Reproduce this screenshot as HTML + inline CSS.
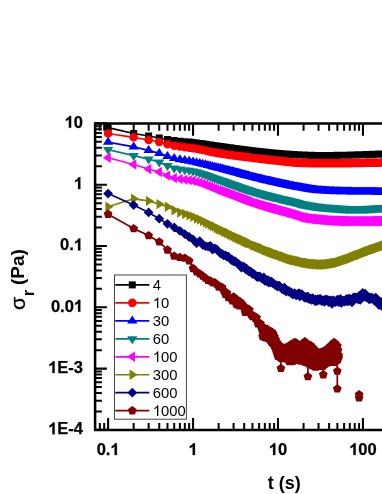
<!DOCTYPE html>
<html><head><meta charset="utf-8"><title>chart</title>
<style>html,body{margin:0;padding:0;background:#fff}svg{display:block;will-change:transform}text{font-family:"Liberation Sans",sans-serif}</style></head>
<body>
<svg width="382" height="494" viewBox="0 0 382 494">
<rect width="382" height="494" fill="#fff"/>
<path d="M95.1 122.15V431.15M93.85 123.4H387M93.85 429.9H387" stroke="#000" stroke-width="2.5" fill="none"/>
<path d="M95.1 429.9h11.8M95.1 368.6h11.8M95.1 307.3h11.8M95.1 246h11.8M95.1 184.7h11.8M95.1 123.4h11.8M108.1 429.9v-11.8M108.1 123.4v12.3M193.05 429.9v-11.8M193.05 123.4v12.3M278 429.9v-11.8M278 123.4v12.3M362.95 429.9v-11.8M362.95 123.4v12.3" stroke="#000" stroke-width="2.1" fill="none"/>
<path d="M95.1 411.45h6.8M95.1 400.65h6.8M95.1 392.99h6.8M95.1 387.05h6.8M95.1 382.2h6.8M95.1 378.1h6.8M95.1 374.54h6.8M95.1 371.4h6.8M95.1 350.15h6.8M95.1 339.35h6.8M95.1 331.69h6.8M95.1 325.75h6.8M95.1 320.9h6.8M95.1 316.8h6.8M95.1 313.24h6.8M95.1 310.1h6.8M95.1 288.85h6.8M95.1 278.05h6.8M95.1 270.39h6.8M95.1 264.45h6.8M95.1 259.6h6.8M95.1 255.5h6.8M95.1 251.94h6.8M95.1 248.8h6.8M95.1 227.55h6.8M95.1 216.75h6.8M95.1 209.09h6.8M95.1 203.15h6.8M95.1 198.3h6.8M95.1 194.2h6.8M95.1 190.64h6.8M95.1 187.5h6.8M95.1 166.25h6.8M95.1 155.45h6.8M95.1 147.79h6.8M95.1 141.85h6.8M95.1 137h6.8M95.1 132.9h6.8M95.1 129.34h6.8M95.1 126.2h6.8M133.67 429.9v-6.8M133.67 123.4v7.3M148.63 429.9v-6.8M148.63 123.4v7.3M159.24 429.9v-6.8M159.24 123.4v7.3M167.48 429.9v-6.8M167.48 123.4v7.3M174.2 429.9v-6.8M174.2 123.4v7.3M179.89 429.9v-6.8M179.89 123.4v7.3M184.82 429.9v-6.8M184.82 123.4v7.3M189.16 429.9v-6.8M189.16 123.4v7.3M218.62 429.9v-6.8M218.62 123.4v7.3M233.58 429.9v-6.8M233.58 123.4v7.3M244.19 429.9v-6.8M244.19 123.4v7.3M252.43 429.9v-6.8M252.43 123.4v7.3M259.15 429.9v-6.8M259.15 123.4v7.3M264.84 429.9v-6.8M264.84 123.4v7.3M269.77 429.9v-6.8M269.77 123.4v7.3M274.11 429.9v-6.8M274.11 123.4v7.3M303.57 429.9v-6.8M303.57 123.4v7.3M318.53 429.9v-6.8M318.53 123.4v7.3M329.14 429.9v-6.8M329.14 123.4v7.3M337.38 429.9v-6.8M337.38 123.4v7.3M344.1 429.9v-6.8M344.1 123.4v7.3M349.79 429.9v-6.8M349.79 123.4v7.3M354.72 429.9v-6.8M354.72 123.4v7.3M359.06 429.9v-6.8M359.06 123.4v7.3M99.87 429.9v-6.8M99.87 123.4v7.3M104.21 429.9v-6.8M104.21 123.4v7.3" stroke="#000" stroke-width="2" fill="none"/>
<g>
<path d="M108.1 127.63L133.67 133.49L148.63 135.99L159.24 137.99L167.48 139.48L174.2 140.53L179.89 141.17L184.82 141.65L189.16 142.07L193.05 142.51L196.57 142.96L199.78 143.41L202.73 143.85L205.46 144.28L208.01 144.68L210.39 145.05L212.63 145.4L214.74 145.73L216.73 146.03L218.62 146.3L220.42 146.56L222.14 146.8L223.78 147.03L225.35 147.25L226.86 147.46L228.3 147.66L229.69 147.85L231.04 148.04L232.33 148.22L233.58 148.39L234.79 148.55L235.96 148.71L237.1 148.87L238.2 149.01L239.27 149.16L240.31 149.29L241.32 149.43L242.3 149.56L243.26 149.68L244.19 149.8L245.11 149.92L246 150.03L246.86 150.14L247.71 150.24L248.54 150.35L249.35 150.45L250.92 150.64L252.43 150.82L253.87 150.99L255.27 151.15L256.61 151.3L257.9 151.45L259.15 151.6L260.36 151.74L261.53 151.87L262.67 152L263.77 152.12L264.84 152.24L265.88 152.35L266.89 152.46L267.88 152.56L268.83 152.66L269.77 152.76L270.68 152.85L271.57 152.93L272.44 153.02L273.28 153.1L274.11 153.17L274.92 153.24L276.11 153.35L277.25 153.44L278.37 153.53L279.45 153.61L280.5 153.69L281.52 153.77L282.51 153.85L283.48 153.92L284.42 153.99L285.34 154.05L286.23 154.12L287.11 154.18L287.96 154.24L288.8 154.29L289.61 154.35L290.68 154.41L291.71 154.48L292.71 154.54L293.69 154.6L294.64 154.65L295.57 154.7L296.48 154.75L297.36 154.8L298.22 154.84L299.07 154.88L299.89 154.91L300.7 154.95L301.68 154.99L302.64 155.02L303.57 155.06L304.48 155.1L305.37 155.13L306.24 155.16L307.09 155.2L307.92 155.23L308.73 155.26L309.68 155.29L310.61 155.32L311.51 155.35L312.39 155.38L313.25 155.4L314.09 155.42L314.92 155.44L315.72 155.46L316.64 155.47L317.53 155.49L318.41 155.49L319.26 155.5L320.1 155.5L320.91 155.5L321.82 155.5L322.71 155.5L323.58 155.49L324.43 155.49L325.26 155.48L326.07 155.48L326.96 155.47L327.83 155.47L328.68 155.46L329.51 155.45L330.32 155.44L331.21 155.44L332.07 155.43L332.91 155.42L333.74 155.41L334.54 155.4L335.41 155.39L336.25 155.38L337.08 155.37L337.89 155.36L338.75 155.34L339.6 155.33L340.42 155.32L341.23 155.31L342.08 155.3L342.92 155.29L343.73 155.27L344.59 155.26L345.43 155.24L346.25 155.22L347.06 155.2L347.9 155.18L348.72 155.16L349.53 155.14L350.37 155.11L351.19 155.09L351.99 155.06L352.83 155.04L353.64 155.01L354.49 154.98L355.31 154.96L356.12 154.93L356.95 154.9L357.77 154.87L358.61 154.85L359.43 154.82L360.23 154.79L361.06 154.76L361.86 154.74L362.69 154.71L363.5 154.68L364.33 154.66L365.13 154.63L365.96 154.6L366.77 154.57L367.59 154.54L368.39 154.51L369.21 154.48L370.01 154.45L370.83 154.41L371.65 154.38L372.46 154.35L373.28 154.32L374.1 154.29L374.91 154.25L375.73 154.22L376.53 154.19L377.34 154.16L378.15 154.13L378.98 154.1L379.78 154.07L380.59 154.05L381.4 154.02L382.22 153.99L383.02 153.97L383.83 153.94L384.64 153.92L385.45 153.89L386.26 153.87L387.07 153.84L387.89 153.82L388.71 153.8L389.52 153.77L390.34 153.75L391.16 153.73L391.97 153.7" fill="none" stroke="#000000" stroke-width="1.7" stroke-linejoin="round"/>
<path d="M104.6 124.13h7v7h-7zM130.17 129.99h7v7h-7zM145.13 132.49h7v7h-7zM155.74 134.49h7v7h-7zM163.98 135.98h7v7h-7zM170.7 137.03h7v7h-7zM176.39 137.67h7v7h-7zM181.32 138.15h7v7h-7zM185.66 138.57h7v7h-7zM189.55 139.01h7v7h-7zM193.07 139.46h7v7h-7zM196.28 139.91h7v7h-7zM199.23 140.35h7v7h-7zM201.96 140.78h7v7h-7zM204.51 141.18h7v7h-7zM206.89 141.55h7v7h-7zM209.13 141.9h7v7h-7zM211.24 142.23h7v7h-7zM213.23 142.53h7v7h-7zM215.12 142.8h7v7h-7zM216.92 143.06h7v7h-7zM218.64 143.3h7v7h-7zM220.28 143.53h7v7h-7zM221.85 143.75h7v7h-7zM223.36 143.96h7v7h-7zM224.8 144.16h7v7h-7zM226.19 144.35h7v7h-7zM227.54 144.54h7v7h-7zM228.83 144.72h7v7h-7zM230.08 144.89h7v7h-7zM231.29 145.05h7v7h-7zM232.46 145.21h7v7h-7zM233.6 145.37h7v7h-7zM234.7 145.51h7v7h-7zM235.77 145.66h7v7h-7zM236.81 145.79h7v7h-7zM237.82 145.93h7v7h-7zM238.8 146.06h7v7h-7zM239.76 146.18h7v7h-7zM240.69 146.3h7v7h-7zM241.61 146.42h7v7h-7zM242.5 146.53h7v7h-7zM243.36 146.64h7v7h-7zM244.21 146.74h7v7h-7zM245.04 146.85h7v7h-7zM245.85 146.95h7v7h-7zM247.42 147.14h7v7h-7zM248.93 147.32h7v7h-7zM250.37 147.49h7v7h-7zM251.77 147.65h7v7h-7zM253.11 147.8h7v7h-7zM254.4 147.95h7v7h-7zM255.65 148.1h7v7h-7zM256.86 148.24h7v7h-7zM258.03 148.37h7v7h-7zM259.17 148.5h7v7h-7zM260.27 148.62h7v7h-7zM261.34 148.74h7v7h-7zM262.38 148.85h7v7h-7zM263.39 148.96h7v7h-7zM264.38 149.06h7v7h-7zM265.33 149.16h7v7h-7zM266.27 149.26h7v7h-7zM267.18 149.35h7v7h-7zM268.07 149.43h7v7h-7zM268.94 149.52h7v7h-7zM269.78 149.6h7v7h-7zM270.61 149.67h7v7h-7zM271.42 149.74h7v7h-7zM272.61 149.85h7v7h-7zM273.75 149.94h7v7h-7zM274.87 150.03h7v7h-7zM275.95 150.11h7v7h-7zM277 150.19h7v7h-7zM278.02 150.27h7v7h-7zM279.01 150.35h7v7h-7zM279.98 150.42h7v7h-7zM280.92 150.49h7v7h-7zM281.84 150.55h7v7h-7zM282.73 150.62h7v7h-7zM283.61 150.68h7v7h-7zM284.46 150.74h7v7h-7zM285.3 150.79h7v7h-7zM286.11 150.85h7v7h-7zM287.18 150.91h7v7h-7zM288.21 150.98h7v7h-7zM289.21 151.04h7v7h-7zM290.19 151.1h7v7h-7zM291.14 151.15h7v7h-7zM292.07 151.2h7v7h-7zM292.98 151.25h7v7h-7zM293.86 151.3h7v7h-7zM294.72 151.34h7v7h-7zM295.57 151.38h7v7h-7zM296.39 151.41h7v7h-7zM297.2 151.45h7v7h-7zM298.18 151.49h7v7h-7zM299.14 151.52h7v7h-7zM300.07 151.56h7v7h-7zM300.98 151.6h7v7h-7zM301.87 151.63h7v7h-7zM302.74 151.66h7v7h-7zM303.59 151.7h7v7h-7zM304.42 151.73h7v7h-7zM305.23 151.76h7v7h-7zM306.18 151.79h7v7h-7zM307.11 151.82h7v7h-7zM308.01 151.85h7v7h-7zM308.89 151.88h7v7h-7zM309.75 151.9h7v7h-7zM310.59 151.92h7v7h-7zM311.42 151.94h7v7h-7zM312.22 151.96h7v7h-7zM313.14 151.97h7v7h-7zM314.03 151.99h7v7h-7zM314.91 151.99h7v7h-7zM315.76 152h7v7h-7zM316.6 152h7v7h-7zM317.41 152h7v7h-7zM318.32 152h7v7h-7zM319.21 152h7v7h-7zM320.08 151.99h7v7h-7zM320.93 151.99h7v7h-7zM321.76 151.98h7v7h-7zM322.57 151.98h7v7h-7zM323.46 151.97h7v7h-7zM324.33 151.97h7v7h-7zM325.18 151.96h7v7h-7zM326.01 151.95h7v7h-7zM326.82 151.94h7v7h-7zM327.71 151.94h7v7h-7zM328.57 151.93h7v7h-7zM329.41 151.92h7v7h-7zM330.24 151.91h7v7h-7zM331.04 151.9h7v7h-7zM331.91 151.89h7v7h-7zM332.75 151.88h7v7h-7zM333.58 151.87h7v7h-7zM334.39 151.86h7v7h-7zM335.25 151.84h7v7h-7zM336.1 151.83h7v7h-7zM336.92 151.82h7v7h-7zM337.73 151.81h7v7h-7zM338.58 151.8h7v7h-7zM339.42 151.79h7v7h-7zM340.23 151.77h7v7h-7zM341.09 151.76h7v7h-7zM341.93 151.74h7v7h-7zM342.75 151.72h7v7h-7zM343.56 151.7h7v7h-7zM344.4 151.68h7v7h-7zM345.22 151.66h7v7h-7zM346.03 151.64h7v7h-7zM346.87 151.61h7v7h-7zM347.69 151.59h7v7h-7zM348.49 151.56h7v7h-7zM349.33 151.54h7v7h-7zM350.14 151.51h7v7h-7zM350.99 151.48h7v7h-7zM351.81 151.46h7v7h-7zM352.62 151.43h7v7h-7zM353.45 151.4h7v7h-7zM354.27 151.37h7v7h-7zM355.11 151.35h7v7h-7zM355.93 151.32h7v7h-7zM356.73 151.29h7v7h-7zM357.56 151.26h7v7h-7zM358.36 151.24h7v7h-7zM359.19 151.21h7v7h-7zM360 151.18h7v7h-7zM360.83 151.16h7v7h-7zM361.63 151.13h7v7h-7zM362.46 151.1h7v7h-7zM363.27 151.07h7v7h-7zM364.09 151.04h7v7h-7zM364.89 151.01h7v7h-7zM365.71 150.98h7v7h-7zM366.51 150.95h7v7h-7zM367.33 150.91h7v7h-7zM368.15 150.88h7v7h-7zM368.96 150.85h7v7h-7zM369.78 150.82h7v7h-7zM370.6 150.79h7v7h-7zM371.41 150.75h7v7h-7zM372.23 150.72h7v7h-7zM373.03 150.69h7v7h-7zM373.84 150.66h7v7h-7zM374.65 150.63h7v7h-7zM375.48 150.6h7v7h-7zM376.28 150.57h7v7h-7zM377.09 150.55h7v7h-7zM377.9 150.52h7v7h-7zM378.72 150.49h7v7h-7zM379.52 150.47h7v7h-7zM380.33 150.44h7v7h-7zM381.14 150.42h7v7h-7zM381.95 150.39h7v7h-7zM382.76 150.37h7v7h-7zM383.57 150.34h7v7h-7zM384.39 150.32h7v7h-7zM385.21 150.3h7v7h-7zM386.02 150.27h7v7h-7zM386.84 150.25h7v7h-7zM387.66 150.23h7v7h-7zM388.47 150.2h7v7h-7z" fill="#000000"/>
<path d="M108.1 133.51L133.67 137.3L148.63 139.99L159.24 141.99L167.48 144.15L174.2 145.74L179.89 146.57L184.82 147.15L189.16 147.66L193.05 148.21L196.57 148.81L199.78 149.42L202.73 150.03L205.46 150.61L208.01 151.16L210.39 151.67L212.63 152.14L214.74 152.56L216.73 152.94L218.62 153.27L220.42 153.57L222.14 153.83L223.78 154.08L225.35 154.32L226.86 154.53L228.3 154.74L229.69 154.93L231.04 155.12L232.33 155.29L233.58 155.46L234.79 155.62L235.96 155.77L237.1 155.91L238.2 156.05L239.27 156.19L240.31 156.32L241.32 156.45L242.3 156.57L243.26 156.69L244.19 156.8L245.11 156.91L246 157.02L246.86 157.13L247.71 157.23L248.54 157.33L249.35 157.43L250.92 157.62L252.43 157.81L253.87 157.98L255.27 158.16L256.61 158.32L257.9 158.48L259.15 158.64L260.36 158.78L261.53 158.93L262.67 159.06L263.77 159.2L264.84 159.32L265.88 159.45L266.89 159.57L267.88 159.68L268.83 159.79L269.77 159.9L270.68 160.01L271.57 160.11L272.44 160.2L273.28 160.3L274.11 160.39L274.92 160.48L276.11 160.6L277.25 160.72L278.37 160.84L279.45 160.95L280.5 161.07L281.52 161.18L282.51 161.3L283.48 161.41L284.42 161.52L285.34 161.62L286.23 161.73L287.11 161.83L287.96 161.93L288.8 162.02L289.61 162.11L290.68 162.22L291.71 162.33L292.71 162.43L293.69 162.52L294.64 162.6L295.57 162.67L296.48 162.74L297.36 162.8L298.22 162.85L299.07 162.9L299.89 162.94L300.7 162.97L301.68 162.99L302.64 163.01L303.57 163.03L304.48 163.05L305.37 163.06L306.24 163.08L307.09 163.09L307.92 163.1L308.73 163.11L309.68 163.13L310.61 163.14L311.51 163.15L312.39 163.16L313.25 163.17L314.09 163.17L314.92 163.18L315.72 163.19L316.64 163.19L317.53 163.2L318.41 163.2L319.26 163.2L320.1 163.2L320.91 163.2L321.82 163.2L322.71 163.2L323.58 163.2L324.43 163.2L325.26 163.2L326.07 163.2L326.96 163.2L327.83 163.2L328.68 163.2L329.51 163.2L330.32 163.2L331.21 163.2L332.07 163.2L332.91 163.2L333.74 163.2L334.54 163.2L335.41 163.2L336.25 163.2L337.08 163.2L337.89 163.2L338.75 163.2L339.6 163.2L340.42 163.2L341.23 163.2L342.08 163.2L342.92 163.2L343.73 163.2L344.59 163.19L345.43 163.19L346.25 163.18L347.06 163.17L347.9 163.16L348.72 163.15L349.53 163.14L350.37 163.13L351.19 163.11L351.99 163.1L352.83 163.08L353.64 163.07L354.49 163.05L355.31 163.04L356.12 163.02L356.95 163.01L357.77 162.99L358.61 162.98L359.43 162.96L360.23 162.95L361.06 162.93L361.86 162.92L362.69 162.9L363.5 162.89L364.33 162.88L365.13 162.87L365.96 162.85L366.77 162.84L367.59 162.83L368.39 162.81L369.21 162.8L370.01 162.79L370.83 162.77L371.65 162.76L372.46 162.75L373.28 162.73L374.1 162.72L374.91 162.71L375.73 162.69L376.53 162.68L377.34 162.67L378.15 162.65L378.98 162.64L379.78 162.63L380.59 162.62L381.4 162.61L382.22 162.6L383.02 162.59L383.83 162.58L384.64 162.57L385.45 162.56L386.26 162.55L387.07 162.54L387.89 162.53L388.71 162.52L389.52 162.51L390.34 162.5L391.16 162.49L391.97 162.48" fill="none" stroke="#ff0000" stroke-width="1.7" stroke-linejoin="round"/>
<path d="M103.85 133.51a4.25 4.25 0 1 0 8.5 0a4.25 4.25 0 1 0 -8.5 0zM129.42 137.3a4.25 4.25 0 1 0 8.5 0a4.25 4.25 0 1 0 -8.5 0zM144.38 139.99a4.25 4.25 0 1 0 8.5 0a4.25 4.25 0 1 0 -8.5 0zM154.99 141.99a4.25 4.25 0 1 0 8.5 0a4.25 4.25 0 1 0 -8.5 0zM163.23 144.15a4.25 4.25 0 1 0 8.5 0a4.25 4.25 0 1 0 -8.5 0zM169.95 145.74a4.25 4.25 0 1 0 8.5 0a4.25 4.25 0 1 0 -8.5 0zM175.64 146.57a4.25 4.25 0 1 0 8.5 0a4.25 4.25 0 1 0 -8.5 0zM180.57 147.15a4.25 4.25 0 1 0 8.5 0a4.25 4.25 0 1 0 -8.5 0zM184.91 147.66a4.25 4.25 0 1 0 8.5 0a4.25 4.25 0 1 0 -8.5 0zM188.8 148.21a4.25 4.25 0 1 0 8.5 0a4.25 4.25 0 1 0 -8.5 0zM192.32 148.81a4.25 4.25 0 1 0 8.5 0a4.25 4.25 0 1 0 -8.5 0zM195.53 149.42a4.25 4.25 0 1 0 8.5 0a4.25 4.25 0 1 0 -8.5 0zM198.48 150.03a4.25 4.25 0 1 0 8.5 0a4.25 4.25 0 1 0 -8.5 0zM201.21 150.61a4.25 4.25 0 1 0 8.5 0a4.25 4.25 0 1 0 -8.5 0zM203.76 151.16a4.25 4.25 0 1 0 8.5 0a4.25 4.25 0 1 0 -8.5 0zM206.14 151.67a4.25 4.25 0 1 0 8.5 0a4.25 4.25 0 1 0 -8.5 0zM208.38 152.14a4.25 4.25 0 1 0 8.5 0a4.25 4.25 0 1 0 -8.5 0zM210.49 152.56a4.25 4.25 0 1 0 8.5 0a4.25 4.25 0 1 0 -8.5 0zM212.48 152.94a4.25 4.25 0 1 0 8.5 0a4.25 4.25 0 1 0 -8.5 0zM214.37 153.27a4.25 4.25 0 1 0 8.5 0a4.25 4.25 0 1 0 -8.5 0zM216.17 153.57a4.25 4.25 0 1 0 8.5 0a4.25 4.25 0 1 0 -8.5 0zM217.89 153.83a4.25 4.25 0 1 0 8.5 0a4.25 4.25 0 1 0 -8.5 0zM219.53 154.08a4.25 4.25 0 1 0 8.5 0a4.25 4.25 0 1 0 -8.5 0zM221.1 154.32a4.25 4.25 0 1 0 8.5 0a4.25 4.25 0 1 0 -8.5 0zM222.61 154.53a4.25 4.25 0 1 0 8.5 0a4.25 4.25 0 1 0 -8.5 0zM224.05 154.74a4.25 4.25 0 1 0 8.5 0a4.25 4.25 0 1 0 -8.5 0zM225.44 154.93a4.25 4.25 0 1 0 8.5 0a4.25 4.25 0 1 0 -8.5 0zM226.79 155.12a4.25 4.25 0 1 0 8.5 0a4.25 4.25 0 1 0 -8.5 0zM228.08 155.29a4.25 4.25 0 1 0 8.5 0a4.25 4.25 0 1 0 -8.5 0zM229.33 155.46a4.25 4.25 0 1 0 8.5 0a4.25 4.25 0 1 0 -8.5 0zM230.54 155.62a4.25 4.25 0 1 0 8.5 0a4.25 4.25 0 1 0 -8.5 0zM231.71 155.77a4.25 4.25 0 1 0 8.5 0a4.25 4.25 0 1 0 -8.5 0zM232.85 155.91a4.25 4.25 0 1 0 8.5 0a4.25 4.25 0 1 0 -8.5 0zM233.95 156.05a4.25 4.25 0 1 0 8.5 0a4.25 4.25 0 1 0 -8.5 0zM235.02 156.19a4.25 4.25 0 1 0 8.5 0a4.25 4.25 0 1 0 -8.5 0zM236.06 156.32a4.25 4.25 0 1 0 8.5 0a4.25 4.25 0 1 0 -8.5 0zM237.07 156.45a4.25 4.25 0 1 0 8.5 0a4.25 4.25 0 1 0 -8.5 0zM238.05 156.57a4.25 4.25 0 1 0 8.5 0a4.25 4.25 0 1 0 -8.5 0zM239.01 156.69a4.25 4.25 0 1 0 8.5 0a4.25 4.25 0 1 0 -8.5 0zM239.94 156.8a4.25 4.25 0 1 0 8.5 0a4.25 4.25 0 1 0 -8.5 0zM240.86 156.91a4.25 4.25 0 1 0 8.5 0a4.25 4.25 0 1 0 -8.5 0zM241.75 157.02a4.25 4.25 0 1 0 8.5 0a4.25 4.25 0 1 0 -8.5 0zM242.61 157.13a4.25 4.25 0 1 0 8.5 0a4.25 4.25 0 1 0 -8.5 0zM243.46 157.23a4.25 4.25 0 1 0 8.5 0a4.25 4.25 0 1 0 -8.5 0zM244.29 157.33a4.25 4.25 0 1 0 8.5 0a4.25 4.25 0 1 0 -8.5 0zM245.1 157.43a4.25 4.25 0 1 0 8.5 0a4.25 4.25 0 1 0 -8.5 0zM246.67 157.62a4.25 4.25 0 1 0 8.5 0a4.25 4.25 0 1 0 -8.5 0zM248.18 157.81a4.25 4.25 0 1 0 8.5 0a4.25 4.25 0 1 0 -8.5 0zM249.62 157.98a4.25 4.25 0 1 0 8.5 0a4.25 4.25 0 1 0 -8.5 0zM251.02 158.16a4.25 4.25 0 1 0 8.5 0a4.25 4.25 0 1 0 -8.5 0zM252.36 158.32a4.25 4.25 0 1 0 8.5 0a4.25 4.25 0 1 0 -8.5 0zM253.65 158.48a4.25 4.25 0 1 0 8.5 0a4.25 4.25 0 1 0 -8.5 0zM254.9 158.64a4.25 4.25 0 1 0 8.5 0a4.25 4.25 0 1 0 -8.5 0zM256.11 158.78a4.25 4.25 0 1 0 8.5 0a4.25 4.25 0 1 0 -8.5 0zM257.28 158.93a4.25 4.25 0 1 0 8.5 0a4.25 4.25 0 1 0 -8.5 0zM258.42 159.06a4.25 4.25 0 1 0 8.5 0a4.25 4.25 0 1 0 -8.5 0zM259.52 159.2a4.25 4.25 0 1 0 8.5 0a4.25 4.25 0 1 0 -8.5 0zM260.59 159.32a4.25 4.25 0 1 0 8.5 0a4.25 4.25 0 1 0 -8.5 0zM261.63 159.45a4.25 4.25 0 1 0 8.5 0a4.25 4.25 0 1 0 -8.5 0zM262.64 159.57a4.25 4.25 0 1 0 8.5 0a4.25 4.25 0 1 0 -8.5 0zM263.63 159.68a4.25 4.25 0 1 0 8.5 0a4.25 4.25 0 1 0 -8.5 0zM264.58 159.79a4.25 4.25 0 1 0 8.5 0a4.25 4.25 0 1 0 -8.5 0zM265.52 159.9a4.25 4.25 0 1 0 8.5 0a4.25 4.25 0 1 0 -8.5 0zM266.43 160.01a4.25 4.25 0 1 0 8.5 0a4.25 4.25 0 1 0 -8.5 0zM267.32 160.11a4.25 4.25 0 1 0 8.5 0a4.25 4.25 0 1 0 -8.5 0zM268.19 160.2a4.25 4.25 0 1 0 8.5 0a4.25 4.25 0 1 0 -8.5 0zM269.03 160.3a4.25 4.25 0 1 0 8.5 0a4.25 4.25 0 1 0 -8.5 0zM269.86 160.39a4.25 4.25 0 1 0 8.5 0a4.25 4.25 0 1 0 -8.5 0zM270.67 160.48a4.25 4.25 0 1 0 8.5 0a4.25 4.25 0 1 0 -8.5 0zM271.86 160.6a4.25 4.25 0 1 0 8.5 0a4.25 4.25 0 1 0 -8.5 0zM273 160.72a4.25 4.25 0 1 0 8.5 0a4.25 4.25 0 1 0 -8.5 0zM274.12 160.84a4.25 4.25 0 1 0 8.5 0a4.25 4.25 0 1 0 -8.5 0zM275.2 160.95a4.25 4.25 0 1 0 8.5 0a4.25 4.25 0 1 0 -8.5 0zM276.25 161.07a4.25 4.25 0 1 0 8.5 0a4.25 4.25 0 1 0 -8.5 0zM277.27 161.18a4.25 4.25 0 1 0 8.5 0a4.25 4.25 0 1 0 -8.5 0zM278.26 161.3a4.25 4.25 0 1 0 8.5 0a4.25 4.25 0 1 0 -8.5 0zM279.23 161.41a4.25 4.25 0 1 0 8.5 0a4.25 4.25 0 1 0 -8.5 0zM280.17 161.52a4.25 4.25 0 1 0 8.5 0a4.25 4.25 0 1 0 -8.5 0zM281.09 161.62a4.25 4.25 0 1 0 8.5 0a4.25 4.25 0 1 0 -8.5 0zM281.98 161.73a4.25 4.25 0 1 0 8.5 0a4.25 4.25 0 1 0 -8.5 0zM282.86 161.83a4.25 4.25 0 1 0 8.5 0a4.25 4.25 0 1 0 -8.5 0zM283.71 161.93a4.25 4.25 0 1 0 8.5 0a4.25 4.25 0 1 0 -8.5 0zM284.55 162.02a4.25 4.25 0 1 0 8.5 0a4.25 4.25 0 1 0 -8.5 0zM285.36 162.11a4.25 4.25 0 1 0 8.5 0a4.25 4.25 0 1 0 -8.5 0zM286.43 162.22a4.25 4.25 0 1 0 8.5 0a4.25 4.25 0 1 0 -8.5 0zM287.46 162.33a4.25 4.25 0 1 0 8.5 0a4.25 4.25 0 1 0 -8.5 0zM288.46 162.43a4.25 4.25 0 1 0 8.5 0a4.25 4.25 0 1 0 -8.5 0zM289.44 162.52a4.25 4.25 0 1 0 8.5 0a4.25 4.25 0 1 0 -8.5 0zM290.39 162.6a4.25 4.25 0 1 0 8.5 0a4.25 4.25 0 1 0 -8.5 0zM291.32 162.67a4.25 4.25 0 1 0 8.5 0a4.25 4.25 0 1 0 -8.5 0zM292.23 162.74a4.25 4.25 0 1 0 8.5 0a4.25 4.25 0 1 0 -8.5 0zM293.11 162.8a4.25 4.25 0 1 0 8.5 0a4.25 4.25 0 1 0 -8.5 0zM293.97 162.85a4.25 4.25 0 1 0 8.5 0a4.25 4.25 0 1 0 -8.5 0zM294.82 162.9a4.25 4.25 0 1 0 8.5 0a4.25 4.25 0 1 0 -8.5 0zM295.64 162.94a4.25 4.25 0 1 0 8.5 0a4.25 4.25 0 1 0 -8.5 0zM296.45 162.97a4.25 4.25 0 1 0 8.5 0a4.25 4.25 0 1 0 -8.5 0zM297.43 162.99a4.25 4.25 0 1 0 8.5 0a4.25 4.25 0 1 0 -8.5 0zM298.39 163.01a4.25 4.25 0 1 0 8.5 0a4.25 4.25 0 1 0 -8.5 0zM299.32 163.03a4.25 4.25 0 1 0 8.5 0a4.25 4.25 0 1 0 -8.5 0zM300.23 163.05a4.25 4.25 0 1 0 8.5 0a4.25 4.25 0 1 0 -8.5 0zM301.12 163.06a4.25 4.25 0 1 0 8.5 0a4.25 4.25 0 1 0 -8.5 0zM301.99 163.08a4.25 4.25 0 1 0 8.5 0a4.25 4.25 0 1 0 -8.5 0zM302.84 163.09a4.25 4.25 0 1 0 8.5 0a4.25 4.25 0 1 0 -8.5 0zM303.67 163.1a4.25 4.25 0 1 0 8.5 0a4.25 4.25 0 1 0 -8.5 0zM304.48 163.11a4.25 4.25 0 1 0 8.5 0a4.25 4.25 0 1 0 -8.5 0zM305.43 163.13a4.25 4.25 0 1 0 8.5 0a4.25 4.25 0 1 0 -8.5 0zM306.36 163.14a4.25 4.25 0 1 0 8.5 0a4.25 4.25 0 1 0 -8.5 0zM307.26 163.15a4.25 4.25 0 1 0 8.5 0a4.25 4.25 0 1 0 -8.5 0zM308.14 163.16a4.25 4.25 0 1 0 8.5 0a4.25 4.25 0 1 0 -8.5 0zM309 163.17a4.25 4.25 0 1 0 8.5 0a4.25 4.25 0 1 0 -8.5 0zM309.84 163.17a4.25 4.25 0 1 0 8.5 0a4.25 4.25 0 1 0 -8.5 0zM310.67 163.18a4.25 4.25 0 1 0 8.5 0a4.25 4.25 0 1 0 -8.5 0zM311.47 163.19a4.25 4.25 0 1 0 8.5 0a4.25 4.25 0 1 0 -8.5 0zM312.39 163.19a4.25 4.25 0 1 0 8.5 0a4.25 4.25 0 1 0 -8.5 0zM313.28 163.2a4.25 4.25 0 1 0 8.5 0a4.25 4.25 0 1 0 -8.5 0zM314.16 163.2a4.25 4.25 0 1 0 8.5 0a4.25 4.25 0 1 0 -8.5 0zM315.01 163.2a4.25 4.25 0 1 0 8.5 0a4.25 4.25 0 1 0 -8.5 0zM315.85 163.2a4.25 4.25 0 1 0 8.5 0a4.25 4.25 0 1 0 -8.5 0zM316.66 163.2a4.25 4.25 0 1 0 8.5 0a4.25 4.25 0 1 0 -8.5 0zM317.57 163.2a4.25 4.25 0 1 0 8.5 0a4.25 4.25 0 1 0 -8.5 0zM318.46 163.2a4.25 4.25 0 1 0 8.5 0a4.25 4.25 0 1 0 -8.5 0zM319.33 163.2a4.25 4.25 0 1 0 8.5 0a4.25 4.25 0 1 0 -8.5 0zM320.18 163.2a4.25 4.25 0 1 0 8.5 0a4.25 4.25 0 1 0 -8.5 0zM321.01 163.2a4.25 4.25 0 1 0 8.5 0a4.25 4.25 0 1 0 -8.5 0zM321.82 163.2a4.25 4.25 0 1 0 8.5 0a4.25 4.25 0 1 0 -8.5 0zM322.71 163.2a4.25 4.25 0 1 0 8.5 0a4.25 4.25 0 1 0 -8.5 0zM323.58 163.2a4.25 4.25 0 1 0 8.5 0a4.25 4.25 0 1 0 -8.5 0zM324.43 163.2a4.25 4.25 0 1 0 8.5 0a4.25 4.25 0 1 0 -8.5 0zM325.26 163.2a4.25 4.25 0 1 0 8.5 0a4.25 4.25 0 1 0 -8.5 0zM326.07 163.2a4.25 4.25 0 1 0 8.5 0a4.25 4.25 0 1 0 -8.5 0zM326.96 163.2a4.25 4.25 0 1 0 8.5 0a4.25 4.25 0 1 0 -8.5 0zM327.82 163.2a4.25 4.25 0 1 0 8.5 0a4.25 4.25 0 1 0 -8.5 0zM328.66 163.2a4.25 4.25 0 1 0 8.5 0a4.25 4.25 0 1 0 -8.5 0zM329.49 163.2a4.25 4.25 0 1 0 8.5 0a4.25 4.25 0 1 0 -8.5 0zM330.29 163.2a4.25 4.25 0 1 0 8.5 0a4.25 4.25 0 1 0 -8.5 0zM331.16 163.2a4.25 4.25 0 1 0 8.5 0a4.25 4.25 0 1 0 -8.5 0zM332 163.2a4.25 4.25 0 1 0 8.5 0a4.25 4.25 0 1 0 -8.5 0zM332.83 163.2a4.25 4.25 0 1 0 8.5 0a4.25 4.25 0 1 0 -8.5 0zM333.64 163.2a4.25 4.25 0 1 0 8.5 0a4.25 4.25 0 1 0 -8.5 0zM334.5 163.2a4.25 4.25 0 1 0 8.5 0a4.25 4.25 0 1 0 -8.5 0zM335.35 163.2a4.25 4.25 0 1 0 8.5 0a4.25 4.25 0 1 0 -8.5 0zM336.17 163.2a4.25 4.25 0 1 0 8.5 0a4.25 4.25 0 1 0 -8.5 0zM336.98 163.2a4.25 4.25 0 1 0 8.5 0a4.25 4.25 0 1 0 -8.5 0zM337.83 163.2a4.25 4.25 0 1 0 8.5 0a4.25 4.25 0 1 0 -8.5 0zM338.67 163.2a4.25 4.25 0 1 0 8.5 0a4.25 4.25 0 1 0 -8.5 0zM339.48 163.2a4.25 4.25 0 1 0 8.5 0a4.25 4.25 0 1 0 -8.5 0zM340.34 163.19a4.25 4.25 0 1 0 8.5 0a4.25 4.25 0 1 0 -8.5 0zM341.18 163.19a4.25 4.25 0 1 0 8.5 0a4.25 4.25 0 1 0 -8.5 0zM342 163.18a4.25 4.25 0 1 0 8.5 0a4.25 4.25 0 1 0 -8.5 0zM342.81 163.17a4.25 4.25 0 1 0 8.5 0a4.25 4.25 0 1 0 -8.5 0zM343.65 163.16a4.25 4.25 0 1 0 8.5 0a4.25 4.25 0 1 0 -8.5 0zM344.47 163.15a4.25 4.25 0 1 0 8.5 0a4.25 4.25 0 1 0 -8.5 0zM345.28 163.14a4.25 4.25 0 1 0 8.5 0a4.25 4.25 0 1 0 -8.5 0zM346.12 163.13a4.25 4.25 0 1 0 8.5 0a4.25 4.25 0 1 0 -8.5 0zM346.94 163.11a4.25 4.25 0 1 0 8.5 0a4.25 4.25 0 1 0 -8.5 0zM347.74 163.1a4.25 4.25 0 1 0 8.5 0a4.25 4.25 0 1 0 -8.5 0zM348.58 163.08a4.25 4.25 0 1 0 8.5 0a4.25 4.25 0 1 0 -8.5 0zM349.39 163.07a4.25 4.25 0 1 0 8.5 0a4.25 4.25 0 1 0 -8.5 0zM350.24 163.05a4.25 4.25 0 1 0 8.5 0a4.25 4.25 0 1 0 -8.5 0zM351.06 163.04a4.25 4.25 0 1 0 8.5 0a4.25 4.25 0 1 0 -8.5 0zM351.87 163.02a4.25 4.25 0 1 0 8.5 0a4.25 4.25 0 1 0 -8.5 0zM352.7 163.01a4.25 4.25 0 1 0 8.5 0a4.25 4.25 0 1 0 -8.5 0zM353.52 162.99a4.25 4.25 0 1 0 8.5 0a4.25 4.25 0 1 0 -8.5 0zM354.36 162.98a4.25 4.25 0 1 0 8.5 0a4.25 4.25 0 1 0 -8.5 0zM355.18 162.96a4.25 4.25 0 1 0 8.5 0a4.25 4.25 0 1 0 -8.5 0zM355.98 162.95a4.25 4.25 0 1 0 8.5 0a4.25 4.25 0 1 0 -8.5 0zM356.81 162.93a4.25 4.25 0 1 0 8.5 0a4.25 4.25 0 1 0 -8.5 0zM357.61 162.92a4.25 4.25 0 1 0 8.5 0a4.25 4.25 0 1 0 -8.5 0zM358.44 162.9a4.25 4.25 0 1 0 8.5 0a4.25 4.25 0 1 0 -8.5 0zM359.25 162.89a4.25 4.25 0 1 0 8.5 0a4.25 4.25 0 1 0 -8.5 0zM360.08 162.88a4.25 4.25 0 1 0 8.5 0a4.25 4.25 0 1 0 -8.5 0zM360.88 162.87a4.25 4.25 0 1 0 8.5 0a4.25 4.25 0 1 0 -8.5 0zM361.71 162.85a4.25 4.25 0 1 0 8.5 0a4.25 4.25 0 1 0 -8.5 0zM362.52 162.84a4.25 4.25 0 1 0 8.5 0a4.25 4.25 0 1 0 -8.5 0zM363.34 162.83a4.25 4.25 0 1 0 8.5 0a4.25 4.25 0 1 0 -8.5 0zM364.14 162.81a4.25 4.25 0 1 0 8.5 0a4.25 4.25 0 1 0 -8.5 0zM364.96 162.8a4.25 4.25 0 1 0 8.5 0a4.25 4.25 0 1 0 -8.5 0zM365.76 162.79a4.25 4.25 0 1 0 8.5 0a4.25 4.25 0 1 0 -8.5 0zM366.58 162.77a4.25 4.25 0 1 0 8.5 0a4.25 4.25 0 1 0 -8.5 0zM367.4 162.76a4.25 4.25 0 1 0 8.5 0a4.25 4.25 0 1 0 -8.5 0zM368.21 162.75a4.25 4.25 0 1 0 8.5 0a4.25 4.25 0 1 0 -8.5 0zM369.03 162.73a4.25 4.25 0 1 0 8.5 0a4.25 4.25 0 1 0 -8.5 0zM369.85 162.72a4.25 4.25 0 1 0 8.5 0a4.25 4.25 0 1 0 -8.5 0zM370.66 162.71a4.25 4.25 0 1 0 8.5 0a4.25 4.25 0 1 0 -8.5 0zM371.48 162.69a4.25 4.25 0 1 0 8.5 0a4.25 4.25 0 1 0 -8.5 0zM372.28 162.68a4.25 4.25 0 1 0 8.5 0a4.25 4.25 0 1 0 -8.5 0zM373.09 162.67a4.25 4.25 0 1 0 8.5 0a4.25 4.25 0 1 0 -8.5 0zM373.9 162.65a4.25 4.25 0 1 0 8.5 0a4.25 4.25 0 1 0 -8.5 0zM374.73 162.64a4.25 4.25 0 1 0 8.5 0a4.25 4.25 0 1 0 -8.5 0zM375.53 162.63a4.25 4.25 0 1 0 8.5 0a4.25 4.25 0 1 0 -8.5 0zM376.34 162.62a4.25 4.25 0 1 0 8.5 0a4.25 4.25 0 1 0 -8.5 0zM377.15 162.61a4.25 4.25 0 1 0 8.5 0a4.25 4.25 0 1 0 -8.5 0zM377.97 162.6a4.25 4.25 0 1 0 8.5 0a4.25 4.25 0 1 0 -8.5 0zM378.77 162.59a4.25 4.25 0 1 0 8.5 0a4.25 4.25 0 1 0 -8.5 0zM379.58 162.58a4.25 4.25 0 1 0 8.5 0a4.25 4.25 0 1 0 -8.5 0zM380.39 162.57a4.25 4.25 0 1 0 8.5 0a4.25 4.25 0 1 0 -8.5 0zM381.2 162.56a4.25 4.25 0 1 0 8.5 0a4.25 4.25 0 1 0 -8.5 0zM382.01 162.55a4.25 4.25 0 1 0 8.5 0a4.25 4.25 0 1 0 -8.5 0zM382.82 162.54a4.25 4.25 0 1 0 8.5 0a4.25 4.25 0 1 0 -8.5 0zM383.64 162.53a4.25 4.25 0 1 0 8.5 0a4.25 4.25 0 1 0 -8.5 0zM384.46 162.52a4.25 4.25 0 1 0 8.5 0a4.25 4.25 0 1 0 -8.5 0zM385.27 162.51a4.25 4.25 0 1 0 8.5 0a4.25 4.25 0 1 0 -8.5 0zM386.09 162.5a4.25 4.25 0 1 0 8.5 0a4.25 4.25 0 1 0 -8.5 0zM386.91 162.49a4.25 4.25 0 1 0 8.5 0a4.25 4.25 0 1 0 -8.5 0zM387.72 162.48a4.25 4.25 0 1 0 8.5 0a4.25 4.25 0 1 0 -8.5 0z" fill="#ff0000"/>
<path d="M108.1 142.05L133.67 146.83L148.63 150.32L159.24 153.32L167.48 156.26L174.2 158.38L179.89 159.55L184.82 160.38L189.16 161.11L193.05 161.84L196.57 162.6L199.78 163.32L202.73 164.02L205.46 164.68L208.01 165.31L210.39 165.9L212.63 166.47L214.74 167L216.73 167.51L218.62 167.99L220.42 168.44L222.14 168.88L223.78 169.3L225.35 169.71L226.86 170.11L228.3 170.49L229.69 170.86L231.04 171.23L232.33 171.58L233.58 171.91L234.79 172.24L235.96 172.56L237.1 172.87L238.2 173.17L239.27 173.46L240.31 173.74L241.32 174.01L242.3 174.28L243.26 174.54L244.19 174.79L245.11 175.03L246 175.27L246.86 175.5L247.71 175.72L248.54 175.94L249.35 176.15L250.92 176.55L252.43 176.94L253.87 177.3L255.27 177.65L256.61 177.98L257.9 178.3L259.15 178.61L260.36 178.91L261.53 179.19L262.67 179.47L263.77 179.74L264.84 180L265.88 180.24L266.89 180.49L267.88 180.72L268.83 180.95L269.77 181.16L270.68 181.38L271.57 181.58L272.44 181.78L273.28 181.98L274.11 182.17L274.92 182.35L276.11 182.61L277.25 182.87L278.37 183.11L279.45 183.35L280.5 183.58L281.52 183.8L282.51 184.02L283.48 184.23L284.42 184.44L285.34 184.64L286.23 184.83L287.11 185.02L287.96 185.2L288.8 185.37L289.61 185.55L290.68 185.77L291.71 185.98L292.71 186.18L293.69 186.38L294.64 186.57L295.57 186.75L296.48 186.93L297.36 187.1L298.22 187.26L299.07 187.41L299.89 187.56L300.7 187.71L301.68 187.88L302.64 188.04L303.57 188.21L304.48 188.37L305.37 188.53L306.24 188.68L307.09 188.83L307.92 188.98L308.73 189.12L309.68 189.28L310.61 189.43L311.51 189.58L312.39 189.72L313.25 189.85L314.09 189.97L314.92 190.09L315.72 190.19L316.64 190.3L317.53 190.41L318.41 190.49L319.26 190.57L320.1 190.64L320.91 190.7L321.82 190.77L322.71 190.83L323.58 190.89L324.43 190.95L325.26 191L326.07 191.05L326.96 191.1L327.83 191.15L328.68 191.2L329.51 191.24L330.32 191.28L331.21 191.33L332.07 191.37L332.91 191.41L333.74 191.44L334.54 191.48L335.41 191.51L336.25 191.55L337.08 191.58L337.89 191.61L338.75 191.63L339.6 191.66L340.42 191.69L341.23 191.71L342.08 191.74L342.92 191.76L343.73 191.78L344.59 191.8L345.43 191.82L346.25 191.84L347.06 191.86L347.9 191.88L348.72 191.9L349.53 191.92L350.37 191.94L351.19 191.96L351.99 191.97L352.83 191.99L353.64 192.01L354.49 192.02L355.31 192.04L356.12 192.05L356.95 192.06L357.77 192.07L358.61 192.09L359.43 192.1L360.23 192.11L361.06 192.12L361.86 192.12L362.69 192.13L363.5 192.14L364.33 192.14L365.13 192.15L365.96 192.15L366.77 192.16L367.59 192.17L368.39 192.17L369.21 192.17L370.01 192.18L370.83 192.18L371.65 192.19L372.46 192.19L373.28 192.19L374.1 192.2L374.91 192.2L375.73 192.2L376.53 192.21L377.34 192.21L378.15 192.21L378.98 192.22L379.78 192.22L380.59 192.23L381.4 192.23L382.22 192.23L383.02 192.24L383.83 192.24L384.64 192.25L385.45 192.25L386.26 192.26L387.07 192.26L387.89 192.27L388.71 192.27L389.52 192.27L390.34 192.28L391.16 192.28L391.97 192.29" fill="none" stroke="#0000ff" stroke-width="1.7" stroke-linejoin="round"/>
<path d="M108.1 136.72L113.3 144.72L102.9 144.72zM133.67 141.49L138.87 149.49L128.47 149.49zM148.63 144.98L153.83 152.98L143.43 152.98zM159.24 147.98L164.44 155.98L154.04 155.98zM167.48 150.93L172.68 158.93L162.28 158.93zM174.2 153.05L179.4 161.05L169 161.05zM179.89 154.22L185.09 162.22L174.69 162.22zM184.82 155.05L190.02 163.05L179.62 163.05zM189.16 155.77L194.36 163.77L183.96 163.77zM193.05 156.51L198.25 164.51L187.85 164.51zM196.57 157.26L201.77 165.26L191.37 165.26zM199.78 157.99L204.98 165.99L194.58 165.99zM202.73 158.68L207.93 166.68L197.53 166.68zM205.46 159.35L210.66 167.35L200.26 167.35zM208.01 159.97L213.21 167.97L202.81 167.97zM210.39 160.57L215.59 168.57L205.19 168.57zM212.63 161.13L217.83 169.13L207.43 169.13zM214.74 161.67L219.94 169.67L209.54 169.67zM216.73 162.17L221.93 170.17L211.53 170.17zM218.62 162.65L223.82 170.65L213.42 170.65zM220.42 163.11L225.62 171.11L215.22 171.11zM222.14 163.54L227.34 171.54L216.94 171.54zM223.78 163.97L228.98 171.97L218.58 171.97zM225.35 164.38L230.55 172.38L220.15 172.38zM226.86 164.77L232.06 172.77L221.66 172.77zM228.3 165.16L233.5 173.16L223.1 173.16zM229.69 165.53L234.89 173.53L224.49 173.53zM231.04 165.89L236.24 173.89L225.84 173.89zM232.33 166.24L237.53 174.24L227.13 174.24zM233.58 166.58L238.78 174.58L228.38 174.58zM234.79 166.91L239.99 174.91L229.59 174.91zM235.96 167.23L241.16 175.23L230.76 175.23zM237.1 167.54L242.3 175.54L231.9 175.54zM238.2 167.83L243.4 175.83L233 175.83zM239.27 168.12L244.47 176.12L234.07 176.12zM240.31 168.41L245.51 176.41L235.11 176.41zM241.32 168.68L246.52 176.68L236.12 176.68zM242.3 168.95L247.5 176.95L237.1 176.95zM243.26 169.2L248.46 177.2L238.06 177.2zM244.19 169.45L249.39 177.45L238.99 177.45zM245.11 169.7L250.31 177.7L239.91 177.7zM246 169.93L251.2 177.93L240.8 177.93zM246.86 170.16L252.06 178.16L241.66 178.16zM247.71 170.39L252.91 178.39L242.51 178.39zM248.54 170.6L253.74 178.6L243.34 178.6zM249.35 170.81L254.55 178.81L244.15 178.81zM250.92 171.22L256.12 179.22L245.72 179.22zM252.43 171.6L257.63 179.6L247.23 179.6zM253.87 171.97L259.07 179.97L248.67 179.97zM255.27 172.32L260.47 180.32L250.07 180.32zM256.61 172.65L261.81 180.65L251.41 180.65zM257.9 172.97L263.1 180.97L252.7 180.97zM259.15 173.28L264.35 181.28L253.95 181.28zM260.36 173.58L265.56 181.58L255.16 181.58zM261.53 173.86L266.73 181.86L256.33 181.86zM262.67 174.14L267.87 182.14L257.47 182.14zM263.77 174.4L268.97 182.4L258.57 182.4zM264.84 174.66L270.04 182.66L259.64 182.66zM265.88 174.91L271.08 182.91L260.68 182.91zM266.89 175.15L272.09 183.15L261.69 183.15zM267.88 175.39L273.08 183.39L262.68 183.39zM268.83 175.61L274.03 183.61L263.63 183.61zM269.77 175.83L274.97 183.83L264.57 183.83zM270.68 176.04L275.88 184.04L265.48 184.04zM271.57 176.25L276.77 184.25L266.37 184.25zM272.44 176.45L277.64 184.45L267.24 184.45zM273.28 176.64L278.48 184.64L268.08 184.64zM274.11 176.83L279.31 184.83L268.91 184.83zM274.92 177.02L280.12 185.02L269.72 185.02zM276.11 177.28L281.31 185.28L270.91 185.28zM277.25 177.54L282.45 185.54L272.05 185.54zM278.37 177.78L283.57 185.78L273.17 185.78zM279.45 178.02L284.65 186.02L274.25 186.02zM280.5 178.25L285.7 186.25L275.3 186.25zM281.52 178.47L286.72 186.47L276.32 186.47zM282.51 178.69L287.71 186.69L277.31 186.69zM283.48 178.9L288.68 186.9L278.28 186.9zM284.42 179.1L289.62 187.1L279.22 187.1zM285.34 179.3L290.54 187.3L280.14 187.3zM286.23 179.5L291.43 187.5L281.03 187.5zM287.11 179.68L292.31 187.68L281.91 187.68zM287.96 179.87L293.16 187.87L282.76 187.87zM288.8 180.04L294 188.04L283.6 188.04zM289.61 180.21L294.81 188.21L284.41 188.21zM290.68 180.43L295.88 188.43L285.48 188.43zM291.71 180.65L296.91 188.65L286.51 188.65zM292.71 180.85L297.91 188.85L287.51 188.85zM293.69 181.05L298.89 189.05L288.49 189.05zM294.64 181.24L299.84 189.24L289.44 189.24zM295.57 181.42L300.77 189.42L290.37 189.42zM296.48 181.59L301.68 189.59L291.28 189.59zM297.36 181.76L302.56 189.76L292.16 189.76zM298.22 181.92L303.42 189.92L293.02 189.92zM299.07 182.08L304.27 190.08L293.87 190.08zM299.89 182.23L305.09 190.23L294.69 190.23zM300.7 182.37L305.9 190.37L295.5 190.37zM301.68 182.54L306.88 190.54L296.48 190.54zM302.64 182.71L307.84 190.71L297.44 190.71zM303.57 182.87L308.77 190.87L298.37 190.87zM304.48 183.03L309.68 191.03L299.28 191.03zM305.37 183.19L310.57 191.19L300.17 191.19zM306.24 183.35L311.44 191.35L301.04 191.35zM307.09 183.5L312.29 191.5L301.89 191.5zM307.92 183.64L313.12 191.64L302.72 191.64zM308.73 183.78L313.93 191.78L303.53 191.78zM309.68 183.95L314.88 191.95L304.48 191.95zM310.61 184.1L315.81 192.1L305.41 192.1zM311.51 184.25L316.71 192.25L306.31 192.25zM312.39 184.39L317.59 192.39L307.19 192.39zM313.25 184.52L318.45 192.52L308.05 192.52zM314.09 184.64L319.29 192.64L308.89 192.64zM314.92 184.75L320.12 192.75L309.72 192.75zM315.72 184.86L320.92 192.86L310.52 192.86zM316.64 184.97L321.84 192.97L311.44 192.97zM317.53 185.07L322.73 193.07L312.33 193.07zM318.41 185.16L323.61 193.16L313.21 193.16zM319.26 185.24L324.46 193.24L314.06 193.24zM320.1 185.31L325.3 193.31L314.9 193.31zM320.91 185.37L326.11 193.37L315.71 193.37zM321.82 185.43L327.02 193.43L316.62 193.43zM322.71 185.5L327.91 193.5L317.51 193.5zM323.58 185.56L328.78 193.56L318.38 193.56zM324.43 185.61L329.63 193.61L319.23 193.61zM325.26 185.66L330.46 193.66L320.06 193.66zM326.07 185.71L331.27 193.71L320.87 193.71zM326.96 185.77L332.16 193.77L321.76 193.77zM327.83 185.82L333.03 193.82L322.63 193.82zM328.68 185.86L333.88 193.86L323.48 193.86zM329.51 185.91L334.71 193.91L324.31 193.91zM330.32 185.95L335.52 193.95L325.12 193.95zM331.21 185.99L336.41 193.99L326.01 193.99zM332.07 186.04L337.27 194.04L326.87 194.04zM332.91 186.07L338.11 194.07L327.71 194.07zM333.74 186.11L338.94 194.11L328.54 194.11zM334.54 186.14L339.74 194.14L329.34 194.14zM335.41 186.18L340.61 194.18L330.21 194.18zM336.25 186.21L341.45 194.21L331.05 194.21zM337.08 186.24L342.28 194.24L331.88 194.24zM337.89 186.27L343.09 194.27L332.69 194.27zM338.75 186.3L343.95 194.3L333.55 194.3zM339.6 186.33L344.8 194.33L334.4 194.33zM340.42 186.35L345.62 194.35L335.22 194.35zM341.23 186.38L346.43 194.38L336.03 194.38zM342.08 186.4L347.28 194.4L336.88 194.4zM342.92 186.42L348.12 194.42L337.72 194.42zM343.73 186.45L348.93 194.45L338.53 194.45zM344.59 186.47L349.79 194.47L339.39 194.47zM345.43 186.49L350.63 194.49L340.23 194.49zM346.25 186.51L351.45 194.51L341.05 194.51zM347.06 186.53L352.26 194.53L341.86 194.53zM347.9 186.55L353.1 194.55L342.7 194.55zM348.72 186.57L353.92 194.57L343.52 194.57zM349.53 186.59L354.73 194.59L344.33 194.59zM350.37 186.61L355.57 194.61L345.17 194.61zM351.19 186.62L356.39 194.62L345.99 194.62zM351.99 186.64L357.19 194.64L346.79 194.64zM352.83 186.66L358.03 194.66L347.63 194.66zM353.64 186.67L358.84 194.67L348.44 194.67zM354.49 186.69L359.69 194.69L349.29 194.69zM355.31 186.7L360.51 194.7L350.11 194.7zM356.12 186.72L361.32 194.72L350.92 194.72zM356.95 186.73L362.15 194.73L351.75 194.73zM357.77 186.74L362.97 194.74L352.57 194.74zM358.61 186.75L363.81 194.75L353.41 194.75zM359.43 186.76L364.63 194.76L354.23 194.76zM360.23 186.77L365.43 194.77L355.03 194.77zM361.06 186.78L366.26 194.78L355.86 194.78zM361.86 186.79L367.06 194.79L356.66 194.79zM362.69 186.8L367.89 194.8L357.49 194.8zM363.5 186.8L368.7 194.8L358.3 194.8zM364.33 186.81L369.53 194.81L359.13 194.81zM365.13 186.82L370.33 194.82L359.93 194.82zM365.96 186.82L371.16 194.82L360.76 194.82zM366.77 186.83L371.97 194.83L361.57 194.83zM367.59 186.83L372.79 194.83L362.39 194.83zM368.39 186.84L373.59 194.84L363.19 194.84zM369.21 186.84L374.41 194.84L364.01 194.84zM370.01 186.84L375.21 194.84L364.81 194.84zM370.83 186.85L376.03 194.85L365.63 194.85zM371.65 186.85L376.85 194.85L366.45 194.85zM372.46 186.86L377.66 194.86L367.26 194.86zM373.28 186.86L378.48 194.86L368.08 194.86zM374.1 186.86L379.3 194.86L368.9 194.86zM374.91 186.87L380.11 194.87L369.71 194.87zM375.73 186.87L380.93 194.87L370.53 194.87zM376.53 186.87L381.73 194.87L371.33 194.87zM377.34 186.88L382.54 194.88L372.14 194.88zM378.15 186.88L383.35 194.88L372.95 194.88zM378.98 186.88L384.18 194.88L373.78 194.88zM379.78 186.89L384.98 194.89L374.58 194.89zM380.59 186.89L385.79 194.89L375.39 194.89zM381.4 186.9L386.6 194.9L376.2 194.9zM382.22 186.9L387.42 194.9L377.02 194.9zM383.02 186.91L388.22 194.91L377.82 194.91zM383.83 186.91L389.03 194.91L378.63 194.91zM384.64 186.91L389.84 194.91L379.44 194.91zM385.45 186.92L390.65 194.92L380.25 194.92zM386.26 186.92L391.46 194.92L381.06 194.92zM387.07 186.93L392.27 194.93L381.87 194.93zM387.89 186.93L393.09 194.93L382.69 194.93zM388.71 186.94L393.91 194.94L383.51 194.94zM389.52 186.94L394.72 194.94L384.32 194.94zM390.34 186.95L395.54 194.95L385.14 194.95zM391.16 186.95L396.36 194.95L385.96 194.95zM391.97 186.95L397.17 194.95L386.77 194.95z" fill="#0000ff"/>
<path d="M108.1 149.69L133.67 155.66L148.63 159.15L159.24 162.15L167.48 165.74L174.2 168.21L179.89 169.24L184.82 169.89L189.16 170.48L193.05 171.18L196.57 172.01L199.78 172.92L202.73 173.85L205.46 174.78L208.01 175.68L210.39 176.54L212.63 177.36L214.74 178.12L216.73 178.84L218.62 179.5L220.42 180.11L222.14 180.69L223.78 181.26L225.35 181.8L226.86 182.34L228.3 182.85L229.69 183.35L231.04 183.83L232.33 184.3L233.58 184.75L234.79 185.19L235.96 185.61L237.1 186.02L238.2 186.41L239.27 186.79L240.31 187.16L241.32 187.52L242.3 187.86L243.26 188.19L244.19 188.51L245.11 188.83L246 189.13L246.86 189.42L247.71 189.7L248.54 189.97L249.35 190.23L250.92 190.73L252.43 191.19L253.87 191.63L255.27 192.04L256.61 192.42L257.9 192.79L259.15 193.14L260.36 193.47L261.53 193.79L262.67 194.09L263.77 194.39L264.84 194.67L265.88 194.94L266.89 195.2L267.88 195.45L268.83 195.69L269.77 195.93L270.68 196.16L271.57 196.38L272.44 196.6L273.28 196.81L274.11 197.01L274.92 197.21L276.11 197.5L277.25 197.78L278.37 198.06L279.45 198.31L280.5 198.56L281.52 198.8L282.51 199.02L283.48 199.24L284.42 199.45L285.34 199.65L286.23 199.85L287.11 200.05L287.96 200.24L288.8 200.43L289.61 200.61L290.68 200.86L291.71 201.1L292.71 201.35L293.69 201.59L294.64 201.83L295.57 202.09L296.48 202.36L297.36 202.62L298.22 202.88L299.07 203.13L299.89 203.36L300.7 203.57L301.68 203.8L302.64 204L303.57 204.18L304.48 204.36L305.37 204.53L306.24 204.69L307.09 204.84L307.92 204.99L308.73 205.13L309.68 205.29L310.61 205.44L311.51 205.58L312.39 205.71L313.25 205.84L314.09 205.95L314.92 206.07L315.72 206.17L316.64 206.29L317.53 206.39L318.41 206.5L319.26 206.59L320.1 206.68L320.91 206.76L321.82 206.85L322.71 206.93L323.58 207.01L324.43 207.08L325.26 207.15L326.07 207.21L326.96 207.28L327.83 207.34L328.68 207.41L329.51 207.46L330.32 207.52L331.21 207.58L332.07 207.64L332.91 207.69L333.74 207.75L334.54 207.8L335.41 207.86L336.25 207.92L337.08 207.99L337.89 208.05L338.75 208.11L339.6 208.18L340.42 208.24L341.23 208.29L342.08 208.35L342.92 208.41L343.73 208.46L344.59 208.51L345.43 208.55L346.25 208.59L347.06 208.62L347.9 208.64L348.72 208.66L349.53 208.67L350.37 208.67L351.19 208.67L351.99 208.67L352.83 208.67L353.64 208.67L354.49 208.67L355.31 208.67L356.12 208.67L356.95 208.67L357.77 208.67L358.61 208.67L359.43 208.67L360.23 208.67L361.06 208.67L361.86 208.67L362.69 208.67L363.5 208.67L364.33 208.66L365.13 208.64L365.96 208.62L366.77 208.59L367.59 208.55L368.39 208.51L369.21 208.47L370.01 208.42L370.83 208.37L371.65 208.31L372.46 208.26L373.28 208.2L374.1 208.14L374.91 208.08L375.73 208.02L376.53 207.97L377.34 207.91L378.15 207.86L378.98 207.81L379.78 207.77L380.59 207.73L381.4 207.69L382.22 207.66L383.02 207.63L383.83 207.6L384.64 207.57L385.45 207.55L386.26 207.52L387.07 207.49L387.89 207.46L388.71 207.44L389.52 207.41L390.34 207.39L391.16 207.37L391.97 207.34" fill="none" stroke="#008080" stroke-width="1.7" stroke-linejoin="round"/>
<path d="M108.1 155.02L113.3 147.02L102.9 147.02zM133.67 160.99L138.87 152.99L128.47 152.99zM148.63 164.48L153.83 156.48L143.43 156.48zM159.24 167.48L164.44 159.48L154.04 159.48zM167.48 171.07L172.68 163.07L162.28 163.07zM174.2 173.55L179.4 165.55L169 165.55zM179.89 174.57L185.09 166.57L174.69 166.57zM184.82 175.22L190.02 167.22L179.62 167.22zM189.16 175.82L194.36 167.82L183.96 167.82zM193.05 176.51L198.25 168.51L187.85 168.51zM196.57 177.34L201.77 169.34L191.37 169.34zM199.78 178.25L204.98 170.25L194.58 170.25zM202.73 179.18L207.93 171.18L197.53 171.18zM205.46 180.11L210.66 172.11L200.26 172.11zM208.01 181.01L213.21 173.01L202.81 173.01zM210.39 181.88L215.59 173.88L205.19 173.88zM212.63 182.69L217.83 174.69L207.43 174.69zM214.74 183.46L219.94 175.46L209.54 175.46zM216.73 184.17L221.93 176.17L211.53 176.17zM218.62 184.83L223.82 176.83L213.42 176.83zM220.42 185.44L225.62 177.44L215.22 177.44zM222.14 186.02L227.34 178.02L216.94 178.02zM223.78 186.59L228.98 178.59L218.58 178.59zM225.35 187.14L230.55 179.14L220.15 179.14zM226.86 187.67L232.06 179.67L221.66 179.67zM228.3 188.19L233.5 180.19L223.1 180.19zM229.69 188.68L234.89 180.68L224.49 180.68zM231.04 189.17L236.24 181.17L225.84 181.17zM232.33 189.63L237.53 181.63L227.13 181.63zM233.58 190.08L238.78 182.08L228.38 182.08zM234.79 190.52L239.99 182.52L229.59 182.52zM235.96 190.94L241.16 182.94L230.76 182.94zM237.1 191.35L242.3 183.35L231.9 183.35zM238.2 191.74L243.4 183.74L233 183.74zM239.27 192.13L244.47 184.13L234.07 184.13zM240.31 192.49L245.51 184.49L235.11 184.49zM241.32 192.85L246.52 184.85L236.12 184.85zM242.3 193.19L247.5 185.19L237.1 185.19zM243.26 193.53L248.46 185.53L238.06 185.53zM244.19 193.85L249.39 185.85L238.99 185.85zM245.11 194.16L250.31 186.16L239.91 186.16zM246 194.46L251.2 186.46L240.8 186.46zM246.86 194.75L252.06 186.75L241.66 186.75zM247.71 195.03L252.91 187.03L242.51 187.03zM248.54 195.3L253.74 187.3L243.34 187.3zM249.35 195.56L254.55 187.56L244.15 187.56zM250.92 196.06L256.12 188.06L245.72 188.06zM252.43 196.53L257.63 188.53L247.23 188.53zM253.87 196.96L259.07 188.96L248.67 188.96zM255.27 197.37L260.47 189.37L250.07 189.37zM256.61 197.76L261.81 189.76L251.41 189.76zM257.9 198.12L263.1 190.12L252.7 190.12zM259.15 198.47L264.35 190.47L253.95 190.47zM260.36 198.81L265.56 190.81L255.16 190.81zM261.53 199.12L266.73 191.12L256.33 191.12zM262.67 199.43L267.87 191.43L257.47 191.43zM263.77 199.72L268.97 191.72L258.57 191.72zM264.84 200L270.04 192L259.64 192zM265.88 200.27L271.08 192.27L260.68 192.27zM266.89 200.53L272.09 192.53L261.69 192.53zM267.88 200.78L273.08 192.78L262.68 192.78zM268.83 201.03L274.03 193.03L263.63 193.03zM269.77 201.26L274.97 193.26L264.57 193.26zM270.68 201.49L275.88 193.49L265.48 193.49zM271.57 201.71L276.77 193.71L266.37 193.71zM272.44 201.93L277.64 193.93L267.24 193.93zM273.28 202.14L278.48 194.14L268.08 194.14zM274.11 202.35L279.31 194.35L268.91 194.35zM274.92 202.55L280.12 194.55L269.72 194.55zM276.11 202.84L281.31 194.84L270.91 194.84zM277.25 203.12L282.45 195.12L272.05 195.12zM278.37 203.39L283.57 195.39L273.17 195.39zM279.45 203.65L284.65 195.65L274.25 195.65zM280.5 203.89L285.7 195.89L275.3 195.89zM281.52 204.13L286.72 196.13L276.32 196.13zM282.51 204.35L287.71 196.35L277.31 196.35zM283.48 204.57L288.68 196.57L278.28 196.57zM284.42 204.78L289.62 196.78L279.22 196.78zM285.34 204.98L290.54 196.98L280.14 196.98zM286.23 205.18L291.43 197.18L281.03 197.18zM287.11 205.38L292.31 197.38L281.91 197.38zM287.96 205.57L293.16 197.57L282.76 197.57zM288.8 205.76L294 197.76L283.6 197.76zM289.61 205.95L294.81 197.95L284.41 197.95zM290.68 206.19L295.88 198.19L285.48 198.19zM291.71 206.44L296.91 198.44L286.51 198.44zM292.71 206.68L297.91 198.68L287.51 198.68zM293.69 206.92L298.89 198.92L288.49 198.92zM294.64 207.17L299.84 199.17L289.44 199.17zM295.57 207.43L300.77 199.43L290.37 199.43zM296.48 207.69L301.68 199.69L291.28 199.69zM297.36 207.96L302.56 199.96L292.16 199.96zM298.22 208.21L303.42 200.21L293.02 200.21zM299.07 208.46L304.27 200.46L293.87 200.46zM299.89 208.69L305.09 200.69L294.69 200.69zM300.7 208.9L305.9 200.9L295.5 200.9zM301.68 209.13L306.88 201.13L296.48 201.13zM302.64 209.33L307.84 201.33L297.44 201.33zM303.57 209.52L308.77 201.52L298.37 201.52zM304.48 209.7L309.68 201.7L299.28 201.7zM305.37 209.86L310.57 201.86L300.17 201.86zM306.24 210.02L311.44 202.02L301.04 202.02zM307.09 210.18L312.29 202.18L301.89 202.18zM307.92 210.32L313.12 202.32L302.72 202.32zM308.73 210.46L313.93 202.46L303.53 202.46zM309.68 210.62L314.88 202.62L304.48 202.62zM310.61 210.77L315.81 202.77L305.41 202.77zM311.51 210.91L316.71 202.91L306.31 202.91zM312.39 211.04L317.59 203.04L307.19 203.04zM313.25 211.17L318.45 203.17L308.05 203.17zM314.09 211.29L319.29 203.29L308.89 203.29zM314.92 211.4L320.12 203.4L309.72 203.4zM315.72 211.5L320.92 203.5L310.52 203.5zM316.64 211.62L321.84 203.62L311.44 203.62zM317.53 211.73L322.73 203.73L312.33 203.73zM318.41 211.83L323.61 203.83L313.21 203.83zM319.26 211.92L324.46 203.92L314.06 203.92zM320.1 212.01L325.3 204.01L314.9 204.01zM320.91 212.09L326.11 204.09L315.71 204.09zM321.82 212.18L327.02 204.18L316.62 204.18zM322.71 212.26L327.91 204.26L317.51 204.26zM323.58 212.34L328.78 204.34L318.38 204.34zM324.43 212.41L329.63 204.41L319.23 204.41zM325.26 212.48L330.46 204.48L320.06 204.48zM326.07 212.54L331.27 204.54L320.87 204.54zM326.96 212.61L332.16 204.61L321.76 204.61zM327.83 212.68L333.03 204.68L322.63 204.68zM328.68 212.74L333.88 204.74L323.48 204.74zM329.51 212.8L334.71 204.8L324.31 204.8zM330.32 212.85L335.52 204.85L325.12 204.85zM331.21 212.91L336.41 204.91L326.01 204.91zM332.07 212.97L337.27 204.97L326.87 204.97zM332.91 213.03L338.11 205.03L327.71 205.03zM333.74 213.08L338.94 205.08L328.54 205.08zM334.54 213.14L339.74 205.14L329.34 205.14zM335.41 213.2L340.61 205.2L330.21 205.2zM336.25 213.26L341.45 205.26L331.05 205.26zM337.08 213.32L342.28 205.32L331.88 205.32zM337.89 213.38L343.09 205.38L332.69 205.38zM338.75 213.45L343.95 205.45L333.55 205.45zM339.6 213.51L344.8 205.51L334.4 205.51zM340.42 213.57L345.62 205.57L335.22 205.57zM341.23 213.63L346.43 205.63L336.03 205.63zM342.08 213.69L347.28 205.69L336.88 205.69zM342.92 213.74L348.12 205.74L337.72 205.74zM343.73 213.79L348.93 205.79L338.53 205.79zM344.59 213.84L349.79 205.84L339.39 205.84zM345.43 213.88L350.63 205.88L340.23 205.88zM346.25 213.92L351.45 205.92L341.05 205.92zM347.06 213.95L352.26 205.95L341.86 205.95zM347.9 213.97L353.1 205.97L342.7 205.97zM348.72 213.99L353.92 205.99L343.52 205.99zM349.53 214L354.73 206L344.33 206zM350.37 214L355.57 206L345.17 206zM351.19 214L356.39 206L345.99 206zM351.99 214L357.19 206L346.79 206zM352.83 214L358.03 206L347.63 206zM353.64 214L358.84 206L348.44 206zM354.49 214L359.69 206L349.29 206zM355.31 214L360.51 206L350.11 206zM356.12 214L361.32 206L350.92 206zM356.95 214L362.15 206L351.75 206zM357.77 214L362.97 206L352.57 206zM358.61 214L363.81 206L353.41 206zM359.43 214L364.63 206L354.23 206zM360.23 214L365.43 206L355.03 206zM361.06 214L366.26 206L355.86 206zM361.86 214L367.06 206L356.66 206zM362.69 214L367.89 206L357.49 206zM363.5 214L368.7 206L358.3 206zM364.33 213.99L369.53 205.99L359.13 205.99zM365.13 213.97L370.33 205.97L359.93 205.97zM365.96 213.95L371.16 205.95L360.76 205.95zM366.77 213.92L371.97 205.92L361.57 205.92zM367.59 213.88L372.79 205.88L362.39 205.88zM368.39 213.84L373.59 205.84L363.19 205.84zM369.21 213.8L374.41 205.8L364.01 205.8zM370.01 213.75L375.21 205.75L364.81 205.75zM370.83 213.7L376.03 205.7L365.63 205.7zM371.65 213.64L376.85 205.64L366.45 205.64zM372.46 213.59L377.66 205.59L367.26 205.59zM373.28 213.53L378.48 205.53L368.08 205.53zM374.1 213.47L379.3 205.47L368.9 205.47zM374.91 213.41L380.11 205.41L369.71 205.41zM375.73 213.36L380.93 205.36L370.53 205.36zM376.53 213.3L381.73 205.3L371.33 205.3zM377.34 213.25L382.54 205.25L372.14 205.25zM378.15 213.2L383.35 205.2L372.95 205.2zM378.98 213.15L384.18 205.15L373.78 205.15zM379.78 213.1L384.98 205.1L374.58 205.1zM380.59 213.06L385.79 205.06L375.39 205.06zM381.4 213.02L386.6 205.02L376.2 205.02zM382.22 212.99L387.42 204.99L377.02 204.99zM383.02 212.96L388.22 204.96L377.82 204.96zM383.83 212.93L389.03 204.93L378.63 204.93zM384.64 212.91L389.84 204.91L379.44 204.91zM385.45 212.88L390.65 204.88L380.25 204.88zM386.26 212.85L391.46 204.85L381.06 204.85zM387.07 212.82L392.27 204.82L381.87 204.82zM387.89 212.8L393.09 204.8L382.69 204.8zM388.71 212.77L393.91 204.77L383.51 204.77zM389.52 212.75L394.72 204.75L384.32 204.75zM390.34 212.72L395.54 204.72L385.14 204.72zM391.16 212.7L396.36 204.7L385.96 204.7zM391.97 212.68L397.17 204.68L386.77 204.68z" fill="#008080"/>
<path d="M108.1 157.72L133.67 164.49L148.63 168.98L159.24 171.98L167.48 175.59L174.2 178.04L179.89 179L184.82 179.59L189.16 180.14L193.05 180.81L196.57 181.67L199.78 182.67L202.73 183.72L205.46 184.78L208.01 185.81L210.39 186.81L212.63 187.75L214.74 188.63L216.73 189.44L218.62 190.18L220.42 190.86L222.14 191.5L223.78 192.12L225.35 192.72L226.86 193.3L228.3 193.86L229.69 194.4L231.04 194.92L232.33 195.43L233.58 195.91L234.79 196.38L235.96 196.84L237.1 197.28L238.2 197.7L239.27 198.11L240.31 198.51L241.32 198.89L242.3 199.26L243.26 199.62L244.19 199.97L245.11 200.31L246 200.63L246.86 200.94L247.71 201.25L248.54 201.54L249.35 201.83L250.92 202.37L252.43 202.88L253.87 203.36L255.27 203.81L256.61 204.23L257.9 204.63L259.15 205.01L260.36 205.38L261.53 205.73L262.67 206.06L263.77 206.38L264.84 206.69L265.88 206.98L266.89 207.27L267.88 207.55L268.83 207.82L269.77 208.08L270.68 208.34L271.57 208.59L272.44 208.83L273.28 209.07L274.11 209.3L274.92 209.53L276.11 209.86L277.25 210.19L278.37 210.5L279.45 210.81L280.5 211.1L281.52 211.39L282.51 211.66L283.48 211.92L284.42 212.18L285.34 212.43L286.23 212.68L287.11 212.92L287.96 213.16L288.8 213.39L289.61 213.62L290.68 213.92L291.71 214.22L292.71 214.51L293.69 214.81L294.64 215.1L295.57 215.42L296.48 215.75L297.36 216.07L298.22 216.39L299.07 216.69L299.89 216.96L300.7 217.19L301.68 217.43L302.64 217.62L303.57 217.79L304.48 217.95L305.37 218.1L306.24 218.24L307.09 218.36L307.92 218.48L308.73 218.59L309.68 218.72L310.61 218.84L311.51 218.94L312.39 219.05L313.25 219.14L314.09 219.23L314.92 219.32L315.72 219.4L316.64 219.49L317.53 219.57L318.41 219.65L319.26 219.73L320.1 219.81L320.91 219.88L321.82 219.97L322.71 220.05L323.58 220.12L324.43 220.2L325.26 220.27L326.07 220.33L326.96 220.4L327.83 220.47L328.68 220.53L329.51 220.58L330.32 220.63L331.21 220.68L332.07 220.73L332.91 220.76L333.74 220.79L334.54 220.82L335.41 220.84L336.25 220.87L337.08 220.89L337.89 220.91L338.75 220.93L339.6 220.96L340.42 220.98L341.23 220.99L342.08 221.01L342.92 221.03L343.73 221.04L344.59 221.06L345.43 221.07L346.25 221.08L347.06 221.09L347.9 221.09L348.72 221.1L349.53 221.1L350.37 221.1L351.19 221.1L351.99 221.1L352.83 221.1L353.64 221.1L354.49 221.1L355.31 221.1L356.12 221.1L356.95 221.1L357.77 221.1L358.61 221.1L359.43 221.1L360.23 221.1L361.06 221.1L361.86 221.1L362.69 221.1L363.5 221.1L364.33 221.1L365.13 221.1L365.96 221.1L366.77 221.09L367.59 221.09L368.39 221.09L369.21 221.08L370.01 221.08L370.83 221.08L371.65 221.07L372.46 221.07L373.28 221.06L374.1 221.06L374.91 221.05L375.73 221.05L376.53 221.04L377.34 221.03L378.15 221.03L378.98 221.02L379.78 221.02L380.59 221.01L381.4 221L382.22 221L383.02 220.99L383.83 220.99L384.64 220.98L385.45 220.97L386.26 220.96L387.07 220.96L387.89 220.95L388.71 220.94L389.52 220.93L390.34 220.92L391.16 220.91L391.97 220.9" fill="none" stroke="#ff00ff" stroke-width="1.7" stroke-linejoin="round"/>
<path d="M102.77 157.72L110.77 152.52L110.77 162.92zM128.34 164.49L136.34 159.29L136.34 169.69zM143.3 168.98L151.3 163.78L151.3 174.18zM153.91 171.98L161.91 166.78L161.91 177.18zM162.14 175.59L170.14 170.39L170.14 180.79zM168.87 178.04L176.87 172.84L176.87 183.24zM174.56 179L182.56 173.8L182.56 184.2zM179.48 179.59L187.48 174.39L187.48 184.79zM183.83 180.14L191.83 174.94L191.83 185.34zM187.72 180.81L195.72 175.61L195.72 186.01zM191.23 181.67L199.23 176.47L199.23 186.87zM194.44 182.67L202.44 177.47L202.44 187.87zM197.4 183.72L205.4 178.52L205.4 188.92zM200.13 184.78L208.13 179.58L208.13 189.98zM202.68 185.81L210.68 180.61L210.68 191.01zM205.06 186.81L213.06 181.61L213.06 192.01zM207.29 187.75L215.29 182.55L215.29 192.95zM209.4 188.63L217.4 183.43L217.4 193.83zM211.4 189.44L219.4 184.24L219.4 194.64zM213.29 190.18L221.29 184.98L221.29 195.38zM215.09 190.86L223.09 185.66L223.09 196.06zM216.81 191.5L224.81 186.3L224.81 196.7zM218.45 192.12L226.45 186.92L226.45 197.32zM220.02 192.72L228.02 187.52L228.02 197.92zM221.52 193.3L229.52 188.1L229.52 198.5zM222.97 193.86L230.97 188.66L230.97 199.06zM224.36 194.4L232.36 189.2L232.36 199.6zM225.7 194.92L233.7 189.72L233.7 200.12zM227 195.43L235 190.23L235 200.63zM228.25 195.91L236.25 190.71L236.25 201.11zM229.46 196.38L237.46 191.18L237.46 201.58zM230.63 196.84L238.63 191.64L238.63 202.04zM231.76 197.28L239.76 192.08L239.76 202.48zM232.87 197.7L240.87 192.5L240.87 202.9zM233.94 198.11L241.94 192.91L241.94 203.31zM234.97 198.51L242.97 193.31L242.97 203.71zM235.99 198.89L243.99 193.69L243.99 204.09zM236.97 199.26L244.97 194.06L244.97 204.46zM237.93 199.62L245.93 194.42L245.93 204.82zM238.86 199.97L246.86 194.77L246.86 205.17zM239.77 200.31L247.77 195.11L247.77 205.51zM240.66 200.63L248.66 195.43L248.66 205.83zM241.53 200.94L249.53 195.74L249.53 206.14zM242.38 201.25L250.38 196.05L250.38 206.45zM243.21 201.54L251.21 196.34L251.21 206.74zM244.02 201.83L252.02 196.63L252.02 207.03zM245.59 202.37L253.59 197.17L253.59 207.57zM247.09 202.88L255.09 197.68L255.09 208.08zM248.54 203.36L256.54 198.16L256.54 208.56zM249.93 203.81L257.93 198.61L257.93 209.01zM251.28 204.23L259.28 199.03L259.28 209.43zM252.57 204.63L260.57 199.43L260.57 209.83zM253.82 205.01L261.82 199.81L261.82 210.21zM255.03 205.38L263.03 200.18L263.03 210.58zM256.2 205.73L264.2 200.53L264.2 210.93zM257.34 206.06L265.34 200.86L265.34 211.26zM258.44 206.38L266.44 201.18L266.44 211.58zM259.51 206.69L267.51 201.49L267.51 211.89zM260.55 206.98L268.55 201.78L268.55 212.18zM261.56 207.27L269.56 202.07L269.56 212.47zM262.54 207.55L270.54 202.35L270.54 212.75zM263.5 207.82L271.5 202.62L271.5 213.02zM264.43 208.08L272.43 202.88L272.43 213.28zM265.35 208.34L273.35 203.14L273.35 213.54zM266.23 208.59L274.23 203.39L274.23 213.79zM267.1 208.83L275.1 203.63L275.1 214.03zM267.95 209.07L275.95 203.87L275.95 214.27zM268.78 209.3L276.78 204.1L276.78 214.5zM269.59 209.53L277.59 204.33L277.59 214.73zM270.77 209.86L278.77 204.66L278.77 215.06zM271.92 210.19L279.92 204.99L279.92 215.39zM273.03 210.5L281.03 205.3L281.03 215.7zM274.11 210.81L282.11 205.61L282.11 216.01zM275.16 211.1L283.16 205.9L283.16 216.3zM276.18 211.39L284.18 206.19L284.18 216.59zM277.18 211.66L285.18 206.46L285.18 216.86zM278.14 211.92L286.14 206.72L286.14 217.12zM279.08 212.18L287.08 206.98L287.08 217.38zM280 212.43L288 207.23L288 217.63zM280.9 212.68L288.9 207.48L288.9 217.88zM281.77 212.92L289.77 207.72L289.77 218.12zM282.63 213.16L290.63 207.96L290.63 218.36zM283.46 213.39L291.46 208.19L291.46 218.59zM284.28 213.62L292.28 208.42L292.28 218.82zM285.34 213.92L293.34 208.72L293.34 219.12zM286.37 214.22L294.37 209.02L294.37 219.42zM287.38 214.51L295.38 209.31L295.38 219.71zM288.36 214.81L296.36 209.61L296.36 220.01zM289.31 215.1L297.31 209.9L297.31 220.3zM290.24 215.42L298.24 210.22L298.24 220.62zM291.14 215.75L299.14 210.55L299.14 220.95zM292.03 216.07L300.03 210.87L300.03 221.27zM292.89 216.39L300.89 211.19L300.89 221.59zM293.73 216.69L301.73 211.49L301.73 221.89zM294.56 216.96L302.56 211.76L302.56 222.16zM295.36 217.19L303.36 211.99L303.36 222.39zM296.35 217.43L304.35 212.23L304.35 222.63zM297.31 217.62L305.31 212.42L305.31 222.82zM298.24 217.79L306.24 212.59L306.24 222.99zM299.15 217.95L307.15 212.75L307.15 223.15zM300.04 218.1L308.04 212.9L308.04 223.3zM300.91 218.24L308.91 213.04L308.91 223.44zM301.76 218.36L309.76 213.16L309.76 223.56zM302.58 218.48L310.58 213.28L310.58 223.68zM303.4 218.59L311.4 213.39L311.4 223.79zM304.35 218.72L312.35 213.52L312.35 223.92zM305.27 218.84L313.27 213.64L313.27 224.04zM306.18 218.94L314.18 213.74L314.18 224.14zM307.06 219.05L315.06 213.85L315.06 224.25zM307.92 219.14L315.92 213.94L315.92 224.34zM308.76 219.23L316.76 214.03L316.76 224.43zM309.58 219.32L317.58 214.12L317.58 224.52zM310.39 219.4L318.39 214.2L318.39 224.6zM311.31 219.49L319.31 214.29L319.31 224.69zM312.2 219.57L320.2 214.37L320.2 224.77zM313.07 219.65L321.07 214.45L321.07 224.85zM313.93 219.73L321.93 214.53L321.93 224.93zM314.76 219.81L322.76 214.61L322.76 225.01zM315.58 219.88L323.58 214.68L323.58 225.08zM316.49 219.97L324.49 214.77L324.49 225.17zM317.38 220.05L325.38 214.85L325.38 225.25zM318.25 220.12L326.25 214.92L326.25 225.32zM319.1 220.2L327.1 215L327.1 225.4zM319.92 220.27L327.92 215.07L327.92 225.47zM320.74 220.33L328.74 215.13L328.74 225.53zM321.63 220.4L329.63 215.2L329.63 225.6zM322.5 220.47L330.5 215.27L330.5 225.67zM323.35 220.53L331.35 215.33L331.35 225.73zM324.18 220.58L332.18 215.38L332.18 225.78zM324.99 220.63L332.99 215.43L332.99 225.83zM325.87 220.68L333.87 215.48L333.87 225.88zM326.74 220.73L334.74 215.53L334.74 225.93zM327.58 220.76L335.58 215.56L335.58 225.96zM328.4 220.79L336.4 215.59L336.4 225.99zM329.21 220.82L337.21 215.62L337.21 226.02zM330.07 220.84L338.07 215.64L338.07 226.04zM330.92 220.87L338.92 215.67L338.92 226.07zM331.75 220.89L339.75 215.69L339.75 226.09zM332.56 220.91L340.56 215.71L340.56 226.11zM333.42 220.93L341.42 215.73L341.42 226.13zM334.26 220.96L342.26 215.76L342.26 226.16zM335.09 220.98L343.09 215.78L343.09 226.18zM335.89 220.99L343.89 215.79L343.89 226.19zM336.75 221.01L344.75 215.81L344.75 226.21zM337.58 221.03L345.58 215.83L345.58 226.23zM338.4 221.04L346.4 215.84L346.4 226.24zM339.26 221.06L347.26 215.86L347.26 226.26zM340.1 221.07L348.1 215.87L348.1 226.27zM340.92 221.08L348.92 215.88L348.92 226.28zM341.72 221.09L349.72 215.89L349.72 226.29zM342.57 221.09L350.57 215.89L350.57 226.29zM343.39 221.1L351.39 215.9L351.39 226.3zM344.19 221.1L352.19 215.9L352.19 226.3zM345.03 221.1L353.03 215.9L353.03 226.3zM345.85 221.1L353.85 215.9L353.85 226.3zM346.66 221.1L354.66 215.9L354.66 226.3zM347.49 221.1L355.49 215.9L355.49 226.3zM348.31 221.1L356.31 215.9L356.31 226.3zM349.15 221.1L357.15 215.9L357.15 226.3zM349.98 221.1L357.98 215.9L357.98 226.3zM350.79 221.1L358.79 215.9L358.79 226.3zM351.62 221.1L359.62 215.9L359.62 226.3zM352.44 221.1L360.44 215.9L360.44 226.3zM353.28 221.1L361.28 215.9L361.28 226.3zM354.1 221.1L362.1 215.9L362.1 226.3zM354.9 221.1L362.9 215.9L362.9 226.3zM355.72 221.1L363.72 215.9L363.72 226.3zM356.53 221.1L364.53 215.9L364.53 226.3zM357.36 221.1L365.36 215.9L365.36 226.3zM358.17 221.1L366.17 215.9L366.17 226.3zM358.99 221.1L366.99 215.9L366.99 226.3zM359.8 221.1L367.8 215.9L367.8 226.3zM360.63 221.1L368.63 215.9L368.63 226.3zM361.43 221.09L369.43 215.89L369.43 226.29zM362.26 221.09L370.26 215.89L370.26 226.29zM363.06 221.09L371.06 215.89L371.06 226.29zM363.88 221.08L371.88 215.88L371.88 226.28zM364.68 221.08L372.68 215.88L372.68 226.28zM365.49 221.08L373.49 215.88L373.49 226.28zM366.32 221.07L374.32 215.87L374.32 226.27zM367.13 221.07L375.13 215.87L375.13 226.27zM367.94 221.06L375.94 215.86L375.94 226.26zM368.77 221.06L376.77 215.86L376.77 226.26zM369.58 221.05L377.58 215.85L377.58 226.25zM370.4 221.05L378.4 215.85L378.4 226.25zM371.2 221.04L379.2 215.84L379.2 226.24zM372.01 221.03L380.01 215.83L380.01 226.23zM372.82 221.03L380.82 215.83L380.82 226.23zM373.64 221.02L381.64 215.82L381.64 226.22zM374.45 221.02L382.45 215.82L382.45 226.22zM375.26 221.01L383.26 215.81L383.26 226.21zM376.07 221L384.07 215.8L384.07 226.2zM376.89 221L384.89 215.8L384.89 226.2zM377.69 220.99L385.69 215.79L385.69 226.19zM378.49 220.99L386.49 215.79L386.49 226.19zM379.3 220.98L387.3 215.78L387.3 226.18zM380.11 220.97L388.11 215.77L388.11 226.17zM380.93 220.96L388.93 215.76L388.93 226.16zM381.74 220.96L389.74 215.76L389.74 226.16zM382.56 220.95L390.56 215.75L390.56 226.15zM383.37 220.94L391.37 215.74L391.37 226.14zM384.19 220.93L392.19 215.73L392.19 226.13zM385.01 220.92L393.01 215.72L393.01 226.12zM385.82 220.91L393.82 215.71L393.82 226.11zM386.64 220.9L394.64 215.7L394.64 226.1z" fill="#ff00ff"/>
<path d="M108.1 206.74L133.67 198.8L148.63 200.89L159.24 204.08L167.48 206.71L174.2 210.29L179.89 212.44L184.82 214.01L189.16 215.4L193.05 216.82L196.57 218.54L199.78 219.66L202.73 221.12L205.46 222.51L208.01 223.59L210.39 224.89L212.63 226.01L214.74 226.79L216.73 228.19L218.62 229.04L220.42 229.7L222.14 230.58L223.78 231.46L225.35 232.09L226.86 232.81L228.3 233.32L229.69 234.29L231.04 234.86L232.33 235.5L233.58 235.83L234.79 236.88L235.96 237.21L237.1 237.67L238.2 238.55L239.27 238.74L240.31 239.02L241.32 239.65L242.3 239.82L243.26 240.77L244.19 240.98L245.11 241.34L246 242.02L246.86 242.01L247.71 242.72L248.54 242.7L249.35 243.27L250.92 243.88L252.43 244.94L253.87 245.61L255.27 245.89L256.61 246.64L257.9 247.03L259.15 247.66L260.36 247.97L261.53 248.31L262.67 248.76L263.77 249.54L264.84 250.25L265.88 250.37L266.89 250.65L267.88 251.4L268.83 251.52L269.77 251.86L270.68 252.24L271.57 252.51L272.44 252.81L273.28 252.96L274.11 253.55L274.92 253.76L276.11 254.38L277.25 254.57L278.37 254.74L279.45 255.41L280.5 256.07L281.52 256.13L282.51 256.41L283.48 256.71L284.42 257.07L285.34 257.5L286.23 257.68L287.11 258.38L287.96 258.39L288.8 258.72L289.61 259.18L290.68 259.52L291.71 259.56L292.71 259.93L293.69 260.25L294.64 260.35L295.57 260.33L296.48 260.91L297.36 261.14L298.22 261.26L299.07 261.25L299.89 261.55L300.7 261.67L301.68 261.93L302.64 262.37L303.57 262.61L304.48 262.67L305.37 262.83L306.24 263.01L307.09 263.07L307.92 263.21L308.73 263.26L309.68 263.5L310.61 263.99L311.51 263.91L312.39 263.84L313.25 263.92L314.09 263.95L314.92 264.21L315.72 264.28L316.64 264.06L317.53 264.4L318.41 264.28L319.26 264.62L320.1 264.46L320.91 264.73L321.82 264.42L322.71 264.46L323.58 264.54L324.43 264.63L325.26 264.5L326.07 264.17L326.96 264.29L327.83 264.17L328.68 263.99L329.51 263.84L330.32 264.07L331.21 263.61L332.07 263.4L332.91 263.48L333.74 263.26L334.54 263.09L335.41 263.05L336.25 262.82L337.08 262.6L337.89 262.49L338.75 262.15L339.6 261.77L340.42 261.56L341.23 261.29L342.08 261.13L342.92 260.68L343.73 260.31L344.59 260.33L345.43 259.84L346.25 259.46L347.06 259.53L347.9 259.06L348.72 258.94L349.53 258.48L350.37 258.06L351.19 257.72L351.99 257.51L352.83 257.21L353.64 256.79L354.49 256.52L355.31 255.99L356.12 255.89L356.95 255.27L357.77 255.17L358.61 254.95L359.43 254.67L360.23 254.44L361.06 253.61L361.86 253.63L362.69 253.37L363.5 253.02L364.33 252.41L365.13 252.31L365.96 252.22L366.77 251.42L367.59 251.42L368.39 251.23L369.21 250.66L370.01 250.57L370.83 250.04L371.65 249.79L372.46 249.5L373.28 249.37L374.1 249.03L374.91 248.91L375.73 248.34L376.53 248.17L377.34 248.05L378.15 247.7L378.98 247.12L379.78 247.13L380.59 246.66L381.4 246.48L382.22 246.16L383.02 246L383.83 245.52L384.64 244.92L385.45 244.68L386.26 244.68L387.07 244.21L387.89 244.1L388.71 243.65L389.52 243.17L390.34 243.12L391.16 242.51L391.97 242" fill="none" stroke="#808000" stroke-width="1.7" stroke-linejoin="round"/>
<path d="M113.43 206.74L105.43 201.54L105.43 211.94zM139.01 198.8L131.01 193.6L131.01 204zM153.96 200.89L145.96 195.69L145.96 206.09zM164.58 204.08L156.58 198.88L156.58 209.28zM172.81 206.71L164.81 201.51L164.81 211.91zM179.54 210.29L171.54 205.09L171.54 215.49zM185.22 212.44L177.22 207.24L177.22 217.64zM190.15 214.01L182.15 208.81L182.15 219.21zM194.5 215.4L186.5 210.2L186.5 220.6zM198.38 216.82L190.38 211.62L190.38 222.02zM201.9 218.54L193.9 213.34L193.9 223.74zM205.11 219.66L197.11 214.46L197.11 224.86zM208.06 221.12L200.06 215.92L200.06 226.32zM210.8 222.51L202.8 217.31L202.8 227.71zM213.34 223.59L205.34 218.39L205.34 228.79zM215.72 224.89L207.72 219.69L207.72 230.09zM217.96 226.01L209.96 220.81L209.96 231.21zM220.07 226.79L212.07 221.59L212.07 231.99zM222.06 228.19L214.06 222.99L214.06 233.39zM223.96 229.04L215.96 223.84L215.96 234.24zM225.76 229.7L217.76 224.5L217.76 234.9zM227.47 230.58L219.47 225.38L219.47 235.78zM229.11 231.46L221.11 226.26L221.11 236.66zM230.68 232.09L222.68 226.89L222.68 237.29zM232.19 232.81L224.19 227.61L224.19 238.01zM233.64 233.32L225.64 228.12L225.64 238.52zM235.03 234.29L227.03 229.09L227.03 239.49zM236.37 234.86L228.37 229.66L228.37 240.06zM237.66 235.5L229.66 230.3L229.66 240.7zM238.91 235.83L230.91 230.63L230.91 241.03zM240.12 236.88L232.12 231.68L232.12 242.08zM241.3 237.21L233.3 232.01L233.3 242.41zM242.43 237.67L234.43 232.47L234.43 242.87zM243.53 238.55L235.53 233.35L235.53 243.75zM244.6 238.74L236.6 233.54L236.6 243.94zM245.64 239.02L237.64 233.82L237.64 244.22zM246.65 239.65L238.65 234.45L238.65 244.85zM247.64 239.82L239.64 234.62L239.64 245.02zM248.59 240.77L240.59 235.57L240.59 245.97zM249.53 240.98L241.53 235.78L241.53 246.18zM250.44 241.34L242.44 236.14L242.44 246.54zM251.33 242.02L243.33 236.82L243.33 247.22zM252.2 242.01L244.2 236.81L244.2 247.21zM253.04 242.72L245.04 237.52L245.04 247.92zM253.87 242.7L245.87 237.5L245.87 247.9zM254.68 243.27L246.68 238.07L246.68 248.47zM256.25 243.88L248.25 238.68L248.25 249.08zM257.76 244.94L249.76 239.74L249.76 250.14zM259.21 245.61L251.21 240.41L251.21 250.81zM260.6 245.89L252.6 240.69L252.6 251.09zM261.94 246.64L253.94 241.44L253.94 251.84zM263.24 247.03L255.24 241.83L255.24 252.23zM264.49 247.66L256.49 242.46L256.49 252.86zM265.7 247.97L257.7 242.77L257.7 253.17zM266.87 248.31L258.87 243.11L258.87 253.51zM268 248.76L260 243.56L260 253.96zM269.1 249.54L261.1 244.34L261.1 254.74zM270.17 250.25L262.17 245.05L262.17 255.45zM271.21 250.37L263.21 245.17L263.21 255.57zM272.22 250.65L264.22 245.45L264.22 255.85zM273.21 251.4L265.21 246.2L265.21 256.6zM274.17 251.52L266.17 246.32L266.17 256.72zM275.1 251.86L267.1 246.66L267.1 257.06zM276.01 252.24L268.01 247.04L268.01 257.44zM276.9 252.51L268.9 247.31L268.9 257.71zM277.77 252.81L269.77 247.61L269.77 258.01zM278.62 252.96L270.62 247.76L270.62 258.16zM279.45 253.55L271.45 248.35L271.45 258.75zM280.26 253.76L272.26 248.56L272.26 258.96zM281.44 254.38L273.44 249.18L273.44 259.58zM282.59 254.57L274.59 249.37L274.59 259.77zM283.7 254.74L275.7 249.54L275.7 259.94zM284.78 255.41L276.78 250.21L276.78 260.61zM285.83 256.07L277.83 250.87L277.83 261.27zM286.85 256.13L278.85 250.93L278.85 261.33zM287.84 256.41L279.84 251.21L279.84 261.61zM288.81 256.71L280.81 251.51L280.81 261.91zM289.75 257.07L281.75 251.87L281.75 262.27zM290.67 257.5L282.67 252.3L282.67 262.7zM291.57 257.68L283.57 252.48L283.57 262.88zM292.44 258.38L284.44 253.18L284.44 263.58zM293.3 258.39L285.3 253.19L285.3 263.59zM294.13 258.72L286.13 253.52L286.13 263.92zM294.95 259.18L286.95 253.98L286.95 264.38zM296.01 259.52L288.01 254.32L288.01 264.72zM297.04 259.56L289.04 254.36L289.04 264.76zM298.05 259.93L290.05 254.73L290.05 265.13zM299.02 260.25L291.02 255.05L291.02 265.45zM299.98 260.35L291.98 255.15L291.98 265.55zM300.9 260.33L292.9 255.13L292.9 265.53zM301.81 260.91L293.81 255.71L293.81 266.11zM302.69 261.14L294.69 255.94L294.69 266.34zM303.56 261.26L295.56 256.06L295.56 266.46zM304.4 261.25L296.4 256.05L296.4 266.45zM305.22 261.55L297.22 256.35L297.22 266.75zM306.03 261.67L298.03 256.47L298.03 266.87zM307.01 261.93L299.01 256.73L299.01 267.13zM307.97 262.37L299.97 257.17L299.97 267.57zM308.91 262.61L300.91 257.41L300.91 267.81zM309.82 262.67L301.82 257.47L301.82 267.87zM310.71 262.83L302.71 257.63L302.71 268.03zM311.57 263.01L303.57 257.81L303.57 268.21zM312.42 263.07L304.42 257.87L304.42 268.27zM313.25 263.21L305.25 258.01L305.25 268.41zM314.06 263.26L306.06 258.06L306.06 268.46zM315.01 263.5L307.01 258.3L307.01 268.7zM315.94 263.99L307.94 258.79L307.94 269.19zM316.84 263.91L308.84 258.71L308.84 269.11zM317.72 263.84L309.72 258.64L309.72 269.04zM318.59 263.92L310.59 258.72L310.59 269.12zM319.43 263.95L311.43 258.75L311.43 269.15zM320.25 264.21L312.25 259.01L312.25 269.41zM321.05 264.28L313.05 259.08L313.05 269.48zM321.97 264.06L313.97 258.86L313.97 269.26zM322.87 264.4L314.87 259.2L314.87 269.6zM323.74 264.28L315.74 259.08L315.74 269.48zM324.6 264.62L316.6 259.42L316.6 269.82zM325.43 264.46L317.43 259.26L317.43 269.66zM326.25 264.73L318.25 259.53L318.25 269.93zM327.16 264.42L319.16 259.22L319.16 269.62zM328.05 264.46L320.05 259.26L320.05 269.66zM328.91 264.54L320.91 259.34L320.91 269.74zM329.76 264.63L321.76 259.43L321.76 269.83zM330.59 264.5L322.59 259.3L322.59 269.7zM331.4 264.17L323.4 258.97L323.4 269.37zM332.29 264.29L324.29 259.09L324.29 269.49zM333.16 264.17L325.16 258.97L325.16 269.37zM334.01 263.99L326.01 258.79L326.01 269.19zM334.85 263.84L326.85 258.64L326.85 269.04zM335.66 264.07L327.66 258.87L327.66 269.27zM336.54 263.61L328.54 258.41L328.54 268.81zM337.4 263.4L329.4 258.2L329.4 268.6zM338.25 263.48L330.25 258.28L330.25 268.68zM339.07 263.26L331.07 258.06L331.07 268.46zM339.87 263.09L331.87 257.89L331.87 268.29zM340.74 263.05L332.74 257.85L332.74 268.25zM341.59 262.82L333.59 257.62L333.59 268.02zM342.41 262.6L334.41 257.4L334.41 267.8zM343.22 262.49L335.22 257.29L335.22 267.69zM344.09 262.15L336.09 256.95L336.09 267.35zM344.93 261.77L336.93 256.57L336.93 266.97zM345.75 261.56L337.75 256.36L337.75 266.76zM346.56 261.29L338.56 256.09L338.56 266.49zM347.42 261.13L339.42 255.93L339.42 266.33zM348.25 260.68L340.25 255.48L340.25 265.88zM349.07 260.31L341.07 255.11L341.07 265.51zM349.93 260.33L341.93 255.13L341.93 265.53zM350.77 259.84L342.77 254.64L342.77 265.04zM351.59 259.46L343.59 254.26L343.59 264.66zM352.39 259.53L344.39 254.33L344.39 264.73zM353.23 259.06L345.23 253.86L345.23 264.26zM354.05 258.94L346.05 253.74L346.05 264.14zM354.86 258.48L346.86 253.28L346.86 263.68zM355.7 258.06L347.7 252.86L347.7 263.26zM356.52 257.72L348.52 252.52L348.52 262.92zM357.32 257.51L349.32 252.31L349.32 262.71zM358.16 257.21L350.16 252.01L350.16 262.41zM358.97 256.79L350.97 251.59L350.97 261.99zM359.82 256.52L351.82 251.32L351.82 261.72zM360.65 255.99L352.65 250.79L352.65 261.19zM361.45 255.89L353.45 250.69L353.45 261.09zM362.29 255.27L354.29 250.07L354.29 260.47zM363.1 255.17L355.1 249.97L355.1 260.37zM363.94 254.95L355.94 249.75L355.94 260.15zM364.76 254.67L356.76 249.47L356.76 259.87zM365.57 254.44L357.57 249.24L357.57 259.64zM366.39 253.61L358.39 248.41L358.39 258.81zM367.2 253.63L359.2 248.43L359.2 258.83zM368.02 253.37L360.02 248.17L360.02 258.57zM368.83 253.02L360.83 247.82L360.83 258.22zM369.66 252.41L361.66 247.21L361.66 257.61zM370.47 252.31L362.47 247.11L362.47 257.51zM371.29 252.22L363.29 247.02L363.29 257.42zM372.1 251.42L364.1 246.22L364.1 256.62zM372.92 251.42L364.92 246.22L364.92 256.62zM373.73 251.23L365.73 246.03L365.73 256.43zM374.55 250.66L366.55 245.46L366.55 255.86zM375.35 250.57L367.35 245.37L367.35 255.77zM376.16 250.04L368.16 244.84L368.16 255.24zM376.99 249.79L368.99 244.59L368.99 254.99zM377.79 249.5L369.79 244.3L369.79 254.7zM378.61 249.37L370.61 244.17L370.61 254.57zM379.44 249.03L371.44 243.83L371.44 254.23zM380.25 248.91L372.25 243.71L372.25 254.11zM381.06 248.34L373.06 243.14L373.06 253.54zM381.86 248.17L373.86 242.97L373.86 253.37zM382.67 248.05L374.67 242.85L374.67 253.25zM383.49 247.7L375.49 242.5L375.49 252.9zM384.31 247.12L376.31 241.92L376.31 252.32zM385.11 247.13L377.11 241.93L377.11 252.33zM385.92 246.66L377.92 241.46L377.92 251.86zM386.74 246.48L378.74 241.28L378.74 251.68zM387.55 246.16L379.55 240.96L379.55 251.36zM388.36 246L380.36 240.8L380.36 251.2zM389.16 245.52L381.16 240.32L381.16 250.72zM389.97 244.92L381.97 239.72L381.97 250.12zM390.78 244.68L382.78 239.48L382.78 249.88zM391.59 244.68L383.59 239.48L383.59 249.88zM392.41 244.21L384.41 239.01L384.41 249.41zM393.22 244.1L385.22 238.9L385.22 249.3zM394.04 243.65L386.04 238.45L386.04 248.85zM394.86 243.17L386.86 237.97L386.86 248.37zM395.67 243.12L387.67 237.92L387.67 248.32zM396.49 242.51L388.49 237.31L388.49 247.71zM397.31 242L389.31 236.8L389.31 247.2z" fill="#808000"/>
<path d="M108.1 193.54L133.67 205.09L148.63 212.46L159.24 218.67L167.48 223.87L174.2 227.31L179.89 230.8L184.82 234.11L189.16 237.01L193.05 239.41L196.57 243.17L199.78 241.15L202.73 244.76L205.46 246.22L208.01 246.61L210.39 246.01L212.63 249.48L214.74 248.3L216.73 249.43L218.62 251.36L220.42 253.43L222.14 254.01L223.78 255.47L225.35 255.32L226.86 256.51L228.3 256.56L229.69 258.19L231.04 259.87L232.33 259.89L233.58 261.39L234.79 261.22L235.96 261.94L237.1 263.22L238.2 263.71L239.27 265.11L240.31 265.42L241.32 267.49L242.3 266.38L243.26 267.01L244.19 266.9L245.11 268.46L246 269.64L246.86 268.93L247.71 270.11L248.54 271.33L249.35 271.09L250.92 271.72L252.43 273.97L253.87 274.02L255.27 275.06L256.61 276.49L257.9 277.16L259.15 276.47L260.36 276.93L261.53 278.25L262.67 278.44L263.77 277.39L264.84 280.77L265.88 280.15L266.89 281.28L267.88 280.03L268.83 282.71L269.77 281.46L270.68 282.33L271.57 281.59L272.44 283.12L273.28 283.47L274.11 283.9L274.92 284.86L276.11 285.1L277.25 286.49L278.37 285.75L279.45 285.83L280.5 287.25L281.52 288.36L282.51 289.42L283.48 289.53L284.42 287.69L285.34 290.08L286.23 291.5L287.11 290.67L287.96 290.56L288.8 291.69L289.61 291.34L290.68 292.84L291.71 292.7L292.71 294.38L293.69 293.96L294.64 293.21L295.57 294.73L296.48 295.33L297.36 294.27L298.22 294.68L299.07 293.27L299.89 296.42L300.7 295.33L301.68 294.26L302.64 294.87L303.57 296.54L304.48 297.7L305.37 297.18L306.24 297.93L307.09 296.74L307.92 296.74L308.73 298.95L309.68 298.83L310.61 298.57L311.51 299.95L312.39 298.12L313.25 298.76L314.09 300.21L314.92 301.08L315.72 299.56L316.64 301.19L317.53 299.25L318.41 300.2L319.26 299.86L320.1 298.69L320.91 300.45L321.82 301.17L322.71 300.3L323.58 300.47L324.43 301.88L325.26 299.59L326.07 299.44L326.96 300.28L327.83 299.86L328.68 302.22L329.51 301.34L330.32 300.33L331.21 300.59L332.07 303.75L332.91 300.64L333.74 300.51L334.54 301.47L335.41 302.06L336.25 301.5L337.08 299.97L337.89 299.64L338.75 302L339.6 301.13L340.42 298.98L341.23 302.78L342.08 302.25L342.92 300.87L343.73 300.85L344.59 301.5L345.43 300.21L346.25 299.24L347.06 301.39L347.9 298.87L348.72 301.19L349.53 298.54L350.37 300.15L351.19 299.89L351.99 302.27L352.83 298.19L353.64 297.48L354.49 298.28L355.31 297.38L356.12 297.74L356.95 298.63L357.77 298.59L358.61 299.26L359.43 295.56L360.23 299.77L361.06 298.7L361.86 295.74L362.69 293.02L363.5 296.17L364.33 296.6L365.13 293.64L365.96 297.1L366.77 296.97L367.59 296.4L368.39 298.53L369.21 299.28L370.01 297.51L370.83 298.73L371.65 297.82L372.46 297.94L373.28 299.44L374.1 300.41L374.91 299.36L375.73 297.59L376.53 301.85L377.34 299.41L378.15 302.26L378.98 305.03L379.78 303.13L380.59 302.06L381.4 302.18L382.22 306.2L383.02 305.05L383.83 306.25L384.64 307.22L385.45 306.35L386.26 306.45L387.07 306.03L387.89 303.59L388.71 306.14L389.52 308.54L390.34 308.83L391.16 310.05L391.97 309.76" fill="none" stroke="#000080" stroke-width="1.7" stroke-linejoin="round"/>
<path d="M108.1 188.64L113 193.54L108.1 198.44L103.2 193.54zM133.67 200.19L138.57 205.09L133.67 209.99L128.77 205.09zM148.63 207.56L153.53 212.46L148.63 217.36L143.73 212.46zM159.24 213.77L164.14 218.67L159.24 223.57L154.34 218.67zM167.48 218.97L172.38 223.87L167.48 228.77L162.58 223.87zM174.2 222.41L179.1 227.31L174.2 232.21L169.3 227.31zM179.89 225.9L184.79 230.8L179.89 235.7L174.99 230.8zM184.82 229.21L189.72 234.11L184.82 239.01L179.92 234.11zM189.16 232.11L194.06 237.01L189.16 241.91L184.26 237.01zM193.05 234.51L197.95 239.41L193.05 244.31L188.15 239.41zM196.57 238.27L201.47 243.17L196.57 248.07L191.67 243.17zM199.78 236.25L204.68 241.15L199.78 246.05L194.88 241.15zM202.73 239.86L207.63 244.76L202.73 249.66L197.83 244.76zM205.46 241.32L210.36 246.22L205.46 251.12L200.56 246.22zM208.01 241.71L212.91 246.61L208.01 251.51L203.11 246.61zM210.39 241.11L215.29 246.01L210.39 250.91L205.49 246.01zM212.63 244.58L217.53 249.48L212.63 254.38L207.73 249.48zM214.74 243.4L219.64 248.3L214.74 253.2L209.84 248.3zM216.73 244.53L221.63 249.43L216.73 254.33L211.83 249.43zM218.62 246.46L223.52 251.36L218.62 256.26L213.72 251.36zM220.42 248.53L225.32 253.43L220.42 258.33L215.52 253.43zM222.14 249.11L227.04 254.01L222.14 258.91L217.24 254.01zM223.78 250.57L228.68 255.47L223.78 260.37L218.88 255.47zM225.35 250.42L230.25 255.32L225.35 260.22L220.45 255.32zM226.86 251.61L231.76 256.51L226.86 261.41L221.96 256.51zM228.3 251.66L233.2 256.56L228.3 261.46L223.4 256.56zM229.69 253.29L234.59 258.19L229.69 263.09L224.79 258.19zM231.04 254.97L235.94 259.87L231.04 264.77L226.14 259.87zM232.33 254.99L237.23 259.89L232.33 264.79L227.43 259.89zM233.58 256.49L238.48 261.39L233.58 266.29L228.68 261.39zM234.79 256.32L239.69 261.22L234.79 266.12L229.89 261.22zM235.96 257.04L240.86 261.94L235.96 266.84L231.06 261.94zM237.1 258.32L242 263.22L237.1 268.12L232.2 263.22zM238.2 258.81L243.1 263.71L238.2 268.61L233.3 263.71zM239.27 260.21L244.17 265.11L239.27 270.01L234.37 265.11zM240.31 260.52L245.21 265.42L240.31 270.32L235.41 265.42zM241.32 262.59L246.22 267.49L241.32 272.39L236.42 267.49zM242.3 261.48L247.2 266.38L242.3 271.28L237.4 266.38zM243.26 262.11L248.16 267.01L243.26 271.91L238.36 267.01zM244.19 262L249.09 266.9L244.19 271.8L239.29 266.9zM245.11 263.56L250.01 268.46L245.11 273.36L240.21 268.46zM246 264.74L250.9 269.64L246 274.54L241.1 269.64zM246.86 264.03L251.76 268.93L246.86 273.83L241.96 268.93zM247.71 265.21L252.61 270.11L247.71 275.01L242.81 270.11zM248.54 266.43L253.44 271.33L248.54 276.23L243.64 271.33zM249.35 266.19L254.25 271.09L249.35 275.99L244.45 271.09zM250.92 266.82L255.82 271.72L250.92 276.62L246.02 271.72zM252.43 269.07L257.33 273.97L252.43 278.87L247.53 273.97zM253.87 269.12L258.77 274.02L253.87 278.92L248.97 274.02zM255.27 270.16L260.17 275.06L255.27 279.96L250.37 275.06zM256.61 271.59L261.51 276.49L256.61 281.39L251.71 276.49zM257.9 272.26L262.8 277.16L257.9 282.06L253 277.16zM259.15 271.57L264.05 276.47L259.15 281.37L254.25 276.47zM260.36 272.03L265.26 276.93L260.36 281.83L255.46 276.93zM261.53 273.35L266.43 278.25L261.53 283.15L256.63 278.25zM262.67 273.54L267.57 278.44L262.67 283.34L257.77 278.44zM263.77 272.49L268.67 277.39L263.77 282.29L258.87 277.39zM264.84 275.87L269.74 280.77L264.84 285.67L259.94 280.77zM265.88 275.25L270.78 280.15L265.88 285.05L260.98 280.15zM266.89 276.38L271.79 281.28L266.89 286.18L261.99 281.28zM267.88 275.13L272.78 280.03L267.88 284.93L262.98 280.03zM268.83 277.81L273.73 282.71L268.83 287.61L263.93 282.71zM269.77 276.56L274.67 281.46L269.77 286.36L264.87 281.46zM270.68 277.43L275.58 282.33L270.68 287.23L265.78 282.33zM271.57 276.69L276.47 281.59L271.57 286.49L266.67 281.59zM272.44 278.22L277.34 283.12L272.44 288.02L267.54 283.12zM273.28 278.57L278.18 283.47L273.28 288.37L268.38 283.47zM274.11 279L279.01 283.9L274.11 288.8L269.21 283.9zM274.92 279.96L279.82 284.86L274.92 289.76L270.02 284.86zM276.11 280.2L281.01 285.1L276.11 290L271.21 285.1zM277.25 281.59L282.15 286.49L277.25 291.39L272.35 286.49zM278.37 280.85L283.27 285.75L278.37 290.65L273.47 285.75zM279.45 280.93L284.35 285.83L279.45 290.73L274.55 285.83zM280.5 282.35L285.4 287.25L280.5 292.15L275.6 287.25zM281.52 283.46L286.42 288.36L281.52 293.26L276.62 288.36zM282.51 284.52L287.41 289.42L282.51 294.32L277.61 289.42zM283.48 284.63L288.38 289.53L283.48 294.43L278.58 289.53zM284.42 282.79L289.32 287.69L284.42 292.59L279.52 287.69zM285.34 285.18L290.24 290.08L285.34 294.98L280.44 290.08zM286.23 286.6L291.13 291.5L286.23 296.4L281.33 291.5zM287.11 285.77L292.01 290.67L287.11 295.57L282.21 290.67zM287.96 285.66L292.86 290.56L287.96 295.46L283.06 290.56zM288.8 286.79L293.7 291.69L288.8 296.59L283.9 291.69zM289.61 286.44L294.51 291.34L289.61 296.24L284.71 291.34zM290.68 287.94L295.58 292.84L290.68 297.74L285.78 292.84zM291.71 287.8L296.61 292.7L291.71 297.6L286.81 292.7zM292.71 289.48L297.61 294.38L292.71 299.28L287.81 294.38zM293.69 289.06L298.59 293.96L293.69 298.86L288.79 293.96zM294.64 288.31L299.54 293.21L294.64 298.11L289.74 293.21zM295.57 289.83L300.47 294.73L295.57 299.63L290.67 294.73zM296.48 290.43L301.38 295.33L296.48 300.23L291.58 295.33zM297.36 289.37L302.26 294.27L297.36 299.17L292.46 294.27zM298.22 289.78L303.12 294.68L298.22 299.58L293.32 294.68zM299.07 288.37L303.97 293.27L299.07 298.17L294.17 293.27zM299.89 291.52L304.79 296.42L299.89 301.32L294.99 296.42zM300.7 290.43L305.6 295.33L300.7 300.23L295.8 295.33zM301.68 289.36L306.58 294.26L301.68 299.16L296.78 294.26zM302.64 289.97L307.54 294.87L302.64 299.77L297.74 294.87zM303.57 291.64L308.47 296.54L303.57 301.44L298.67 296.54zM304.48 292.8L309.38 297.7L304.48 302.6L299.58 297.7zM305.37 292.28L310.27 297.18L305.37 302.08L300.47 297.18zM306.24 293.03L311.14 297.93L306.24 302.83L301.34 297.93zM307.09 291.84L311.99 296.74L307.09 301.64L302.19 296.74zM307.92 291.84L312.82 296.74L307.92 301.64L303.02 296.74zM308.73 294.05L313.63 298.95L308.73 303.85L303.83 298.95zM309.68 293.93L314.58 298.83L309.68 303.73L304.78 298.83zM310.61 293.67L315.51 298.57L310.61 303.47L305.71 298.57zM311.51 295.05L316.41 299.95L311.51 304.85L306.61 299.95zM312.39 293.22L317.29 298.12L312.39 303.02L307.49 298.12zM313.25 293.86L318.15 298.76L313.25 303.66L308.35 298.76zM314.09 295.31L318.99 300.21L314.09 305.11L309.19 300.21zM314.92 296.18L319.82 301.08L314.92 305.98L310.02 301.08zM315.72 294.66L320.62 299.56L315.72 304.46L310.82 299.56zM316.64 296.29L321.54 301.19L316.64 306.09L311.74 301.19zM317.53 294.35L322.43 299.25L317.53 304.15L312.63 299.25zM318.41 295.3L323.31 300.2L318.41 305.1L313.51 300.2zM319.26 294.96L324.16 299.86L319.26 304.76L314.36 299.86zM320.1 293.79L325 298.69L320.1 303.59L315.2 298.69zM320.91 295.55L325.81 300.45L320.91 305.35L316.01 300.45zM321.82 296.27L326.72 301.17L321.82 306.07L316.92 301.17zM322.71 295.4L327.61 300.3L322.71 305.2L317.81 300.3zM323.58 295.57L328.48 300.47L323.58 305.37L318.68 300.47zM324.43 296.98L329.33 301.88L324.43 306.78L319.53 301.88zM325.26 294.69L330.16 299.59L325.26 304.49L320.36 299.59zM326.07 294.54L330.97 299.44L326.07 304.34L321.17 299.44zM326.96 295.38L331.86 300.28L326.96 305.18L322.06 300.28zM327.83 294.96L332.73 299.86L327.83 304.76L322.93 299.86zM328.68 297.32L333.58 302.22L328.68 307.12L323.78 302.22zM329.51 296.44L334.41 301.34L329.51 306.24L324.61 301.34zM330.32 295.43L335.22 300.33L330.32 305.23L325.42 300.33zM331.21 295.69L336.11 300.59L331.21 305.49L326.31 300.59zM332.07 298.85L336.97 303.75L332.07 308.65L327.17 303.75zM332.91 295.74L337.81 300.64L332.91 305.54L328.01 300.64zM333.74 295.61L338.64 300.51L333.74 305.41L328.84 300.51zM334.54 296.57L339.44 301.47L334.54 306.37L329.64 301.47zM335.41 297.16L340.31 302.06L335.41 306.96L330.51 302.06zM336.25 296.6L341.15 301.5L336.25 306.4L331.35 301.5zM337.08 295.07L341.98 299.97L337.08 304.87L332.18 299.97zM337.89 294.74L342.79 299.64L337.89 304.54L332.99 299.64zM338.75 297.1L343.65 302L338.75 306.9L333.85 302zM339.6 296.23L344.5 301.13L339.6 306.03L334.7 301.13zM340.42 294.08L345.32 298.98L340.42 303.88L335.52 298.98zM341.23 297.88L346.13 302.78L341.23 307.68L336.33 302.78zM342.08 297.35L346.98 302.25L342.08 307.15L337.18 302.25zM342.92 295.97L347.82 300.87L342.92 305.77L338.02 300.87zM343.73 295.95L348.63 300.85L343.73 305.75L338.83 300.85zM344.59 296.6L349.49 301.5L344.59 306.4L339.69 301.5zM345.43 295.31L350.33 300.21L345.43 305.11L340.53 300.21zM346.25 294.34L351.15 299.24L346.25 304.14L341.35 299.24zM347.06 296.49L351.96 301.39L347.06 306.29L342.16 301.39zM347.9 293.97L352.8 298.87L347.9 303.77L343 298.87zM348.72 296.29L353.62 301.19L348.72 306.09L343.82 301.19zM349.53 293.64L354.43 298.54L349.53 303.44L344.63 298.54zM350.37 295.25L355.27 300.15L350.37 305.05L345.47 300.15zM351.19 294.99L356.09 299.89L351.19 304.79L346.29 299.89zM351.99 297.37L356.89 302.27L351.99 307.17L347.09 302.27zM352.83 293.29L357.73 298.19L352.83 303.09L347.93 298.19zM353.64 292.58L358.54 297.48L353.64 302.38L348.74 297.48zM354.49 293.38L359.39 298.28L354.49 303.18L349.59 298.28zM355.31 292.48L360.21 297.38L355.31 302.28L350.41 297.38zM356.12 292.84L361.02 297.74L356.12 302.64L351.22 297.74zM356.95 293.73L361.85 298.63L356.95 303.53L352.05 298.63zM357.77 293.69L362.67 298.59L357.77 303.49L352.87 298.59zM358.61 294.36L363.51 299.26L358.61 304.16L353.71 299.26zM359.43 290.66L364.33 295.56L359.43 300.46L354.53 295.56zM360.23 294.87L365.13 299.77L360.23 304.67L355.33 299.77zM361.06 293.8L365.96 298.7L361.06 303.6L356.16 298.7zM361.86 290.84L366.76 295.74L361.86 300.64L356.96 295.74zM362.69 288.12L367.59 293.02L362.69 297.92L357.79 293.02zM363.5 291.27L368.4 296.17L363.5 301.07L358.6 296.17zM364.33 291.7L369.23 296.6L364.33 301.5L359.43 296.6zM365.13 288.74L370.03 293.64L365.13 298.54L360.23 293.64zM365.96 292.2L370.86 297.1L365.96 302L361.06 297.1zM366.77 292.07L371.67 296.97L366.77 301.87L361.87 296.97zM367.59 291.5L372.49 296.4L367.59 301.3L362.69 296.4zM368.39 293.63L373.29 298.53L368.39 303.43L363.49 298.53zM369.21 294.38L374.11 299.28L369.21 304.18L364.31 299.28zM370.01 292.61L374.91 297.51L370.01 302.41L365.11 297.51zM370.83 293.83L375.73 298.73L370.83 303.63L365.93 298.73zM371.65 292.92L376.55 297.82L371.65 302.72L366.75 297.82zM372.46 293.04L377.36 297.94L372.46 302.84L367.56 297.94zM373.28 294.54L378.18 299.44L373.28 304.34L368.38 299.44zM374.1 295.51L379 300.41L374.1 305.31L369.2 300.41zM374.91 294.46L379.81 299.36L374.91 304.26L370.01 299.36zM375.73 292.69L380.63 297.59L375.73 302.49L370.83 297.59zM376.53 296.95L381.43 301.85L376.53 306.75L371.63 301.85zM377.34 294.51L382.24 299.41L377.34 304.31L372.44 299.41zM378.15 297.36L383.05 302.26L378.15 307.16L373.25 302.26zM378.98 300.13L383.88 305.03L378.98 309.93L374.08 305.03zM379.78 298.23L384.68 303.13L379.78 308.03L374.88 303.13zM380.59 297.16L385.49 302.06L380.59 306.96L375.69 302.06zM381.4 297.28L386.3 302.18L381.4 307.08L376.5 302.18zM382.22 301.3L387.12 306.2L382.22 311.1L377.32 306.2zM383.02 300.15L387.92 305.05L383.02 309.95L378.12 305.05zM383.83 301.35L388.73 306.25L383.83 311.15L378.93 306.25zM384.64 302.32L389.54 307.22L384.64 312.12L379.74 307.22zM385.45 301.45L390.35 306.35L385.45 311.25L380.55 306.35zM386.26 301.55L391.16 306.45L386.26 311.35L381.36 306.45zM387.07 301.13L391.97 306.03L387.07 310.93L382.17 306.03zM387.89 298.69L392.79 303.59L387.89 308.49L382.99 303.59zM388.71 301.24L393.61 306.14L388.71 311.04L383.81 306.14zM389.52 303.64L394.42 308.54L389.52 313.44L384.62 308.54zM390.34 303.93L395.24 308.83L390.34 313.73L385.44 308.83zM391.16 305.15L396.06 310.05L391.16 314.95L386.26 310.05zM391.97 304.86L396.87 309.76L391.97 314.66L387.07 309.76z" fill="#000080"/>
<path d="M108.1 214.19L133.67 228.61L148.63 235.6L159.24 241.9L167.48 249.93L174.2 256.05L179.89 257.32L184.82 258.11L189.16 260.87L193.05 268.43L196.57 271.75L199.78 273.75L202.73 276.03L205.46 278.06L208.01 280.37L210.39 280.81L212.63 282.53L214.74 282.66L216.73 284.06L218.62 286.85L220.42 286.99L222.14 287.38L223.78 290.79L225.35 294.38L226.86 292.91L228.3 297.49L229.69 297.64L231.04 298.38L232.33 300.82L233.58 296.8L234.79 298.37L235.96 303.85L237.1 304.81L238.2 300.54L239.27 305.88L240.31 301.94L241.32 303.58L242.3 304.26L243.26 306.35L244.19 307.85L245.11 312.35L246 309.87L246.86 308.44L247.71 310.31L248.54 309.12L249.35 310.03L250.92 314.58L252.43 316.63L253.87 315.92L255.27 318.37L256.61 317.56L257.9 323.9L259.15 323.49L260.36 323.48L261.53 328.59L262.6 327.2L262.6 331.82L262.6 336.43L263.25 336.01L263.25 331.68L263.25 327.35L263.9 327.8L263.9 331.91L263.9 336.01L264.55 337.27L264.55 332.75L264.55 328.22L265.2 328.86L265.2 332.8L265.2 336.74L265.85 337.75L265.85 333.55L265.85 329.35L266.5 329.48L266.5 333.25L266.5 337.03L267.15 337.77L267.15 333.44L267.15 329.1L267.8 329.77L267.8 334.02L267.8 338.27L268.45 337.9L268.45 334.22L268.45 330.54L269.1 331.01L269.1 334.78L269.1 338.55L269.75 339.77L269.75 335.41L269.75 331.05L270.4 331.27L270.4 335.62L270.4 339.96L271.05 341.6L271.05 337.1L271.05 332.59L271.7 331.9L271.7 335.46L271.7 339.03L271.7 342.6L272.35 332.88L272.35 337.71L272.35 342.55L273 343.85L273 340.48L273 337.11L273 333.74L273.65 344.27L273.65 339.96L273.65 335.66L274.3 336.74L274.3 341.48L274.3 346.22L274.95 346.67L274.95 342.7L274.95 338.73L275.6 339.99L275.6 344.18L275.6 348.36L276.25 351.6L276.25 346.74L276.25 341.87L276.9 342.48L276.9 345.99L276.9 349.5L276.9 353.02L277.55 343.73L277.55 347.73L277.55 351.74L277.55 355.74L278.2 344.38L278.2 348.36L278.2 352.34L278.2 356.32L278.85 345L278.85 348.74L278.85 352.49L278.85 356.23L279.5 346.13L279.5 349.69L279.5 353.25L279.5 356.82L280.15 345.76L280.15 349.64L280.15 353.52L280.15 357.4L280.8 346.79L280.8 350.47L280.8 354.14L280.8 357.82L281.45 347.28L281.45 351L281.45 354.72L281.45 358.44L282.1 348.78L282.1 353.64L282.1 358.49L282.75 357.62L282.75 353.18L282.75 348.74L283.4 348.85L283.4 353.04L283.4 357.22L284.05 358.01L284.05 353.22L284.05 348.44L284.7 348.24L284.7 352.88L284.7 357.52L285.35 356.94L285.35 352.46L285.35 347.97L286 347.71L286 351.18L286 354.65L286 358.12L286.65 348.39L286.65 353.1L286.65 357.8L287.3 359.06L287.3 355.06L287.3 351.06L287.3 347.06L287.95 359.34L287.95 355.35L287.95 351.36L287.95 347.36L288.6 360.22L288.6 355.54L288.6 350.86L288.6 346.19L289.25 361.45L289.25 356.47L289.25 351.5L289.25 346.52L289.9 361.36L289.9 357.6L289.9 353.84L289.9 350.08L289.9 346.32L290.55 344.88L290.55 348.99L290.55 353.11L290.55 357.22L290.55 361.34L291.2 361.53L291.2 357.23L291.2 352.94L291.2 348.65L291.2 344.35L291.85 344.61L291.85 348.82L291.85 353.02L291.85 357.22L291.85 361.42L292.5 360.52L292.5 356.55L292.5 352.58L292.5 348.6L292.5 344.63L293.15 343.31L293.15 347.71L293.15 352.11L293.15 356.51L293.15 360.91L293.8 360.04L293.8 355.73L293.8 351.42L293.8 347.11L293.8 342.79L294.45 342.57L294.45 346.87L294.45 351.17L294.45 355.46L294.45 359.76L295.1 359.07L295.1 355.09L295.1 351.11L295.1 347.12L295.1 343.14L295.75 342.71L295.75 347L295.75 351.29L295.75 355.59L295.75 359.88L296.4 359.91L296.4 355.83L296.4 351.75L296.4 347.67L296.4 343.59L297.05 344.07L297.05 348.03L297.05 351.99L297.05 355.94L297.05 359.9L297.7 360.2L297.7 356.4L297.7 352.6L297.7 348.8L297.7 344.99L298.35 344.94L298.35 348.75L298.35 352.56L298.35 356.37L298.35 360.18L299 359.97L299 355.04L299 350.11L299 345.18L299.65 359.69L299.65 355.12L299.65 350.55L299.65 345.98L300.3 360.68L300.3 355.77L300.3 350.87L300.3 345.97L300.95 360.05L300.95 356.18L300.95 352.31L300.95 348.44L300.95 344.57L301.6 344.33L301.6 348.53L301.6 352.74L301.6 356.95L301.6 361.15L302.25 360.75L302.25 356.5L302.25 352.26L302.25 348.01L302.25 343.77L302.9 343.32L302.9 347.59L302.9 351.85L302.9 356.12L302.9 360.39L303.55 360.63L303.55 356.18L303.55 351.74L303.55 347.29L303.55 342.85L304.2 342.19L304.2 347L304.2 351.8L304.2 356.61L304.2 361.42L304.85 361.97L304.85 357.91L304.85 353.86L304.85 349.8L304.85 345.75L304.85 341.69L305.5 362.1L305.5 357.33L305.5 352.56L305.5 347.79L305.5 343.03L306.15 343.27L306.15 347.92L306.15 352.58L306.15 357.23L306.15 361.89L306.8 362.3L306.8 357.79L306.8 353.28L306.8 348.77L306.8 344.26L307.45 344.04L307.45 348.67L307.45 353.3L307.45 357.93L307.45 362.56L308.1 362.92L308.1 358.3L308.1 353.67L308.1 349.05L308.1 344.43L308.75 345.4L308.75 349.92L308.75 354.45L308.75 358.97L308.75 363.49L309.4 363.19L309.4 358.91L309.4 354.64L309.4 350.36L309.4 346.09L310.05 345.41L310.05 349.85L310.05 354.3L310.05 358.75L310.05 363.2L310.7 364.26L310.7 359.55L310.7 354.83L310.7 350.12L310.7 345.41L311.35 346.67L311.35 351.19L311.35 355.71L311.35 360.24L311.35 364.76L312 365.36L312 360.8L312 356.24L312 351.68L312 347.12L312.65 347.74L312.65 352.06L312.65 356.37L312.65 360.69L312.65 365.01L313.3 365.84L313.3 361.43L313.3 357.01L313.3 352.6L313.3 348.19L313.95 349.51L313.95 353.6L313.95 357.7L313.95 361.8L313.95 365.89L314.6 366.52L314.6 362.36L314.6 358.19L314.6 354.03L314.6 349.86L315.25 351.63L315.25 355.43L315.25 359.24L315.25 363.04L315.25 366.84L315.9 366.91L315.9 363.1L315.9 359.29L315.9 355.49L315.9 351.68L316.55 351.59L316.55 356.53L316.55 361.47L316.55 366.4L317.2 352.1L317.2 356.75L317.2 361.4L317.2 366.05L317.85 352.69L317.85 357.12L317.85 361.55L317.85 365.98L318.5 353.04L318.5 357.24L318.5 361.44L318.5 365.64L319.15 352.74L319.15 357.04L319.15 361.33L319.15 365.62L319.8 353.24L319.8 357.58L319.8 361.92L319.8 366.27L320.45 352.52L320.45 356.85L320.45 361.19L320.45 365.52L321.1 352.86L321.1 357.35L321.1 361.84L321.1 366.33L321.75 352.53L321.75 357.11L321.75 361.69L321.75 366.27L322.4 352.01L322.4 356.5L322.4 361L322.4 365.49L323.05 352.08L323.05 356.7L323.05 361.31L323.05 365.93L323.7 351.03L323.7 355.7L323.7 360.37L323.7 365.04L324.35 351.77L324.35 355.94L324.35 360.1L324.35 364.26L325 350.91L325 355.29L325 359.67L325 364.05L325.65 351.08L325.65 355.11L325.65 359.14L325.65 363.16L326.3 350.14L326.3 354.31L326.3 358.49L326.3 362.66L326.95 349.26L326.95 353.85L326.95 358.43L326.95 363.02L327.6 348.58L327.6 353.01L327.6 357.43L327.6 361.86L328.25 348.7L328.25 353.1L328.25 357.49L328.25 361.89L328.9 347.8L328.9 352.64L328.9 357.48L328.9 362.32L329.55 346.91L329.55 350.67L329.55 354.42L329.55 358.18L329.55 361.93L330.2 362.26L330.2 358.23L330.2 354.21L330.2 350.18L330.2 346.16L330.85 345.77L330.85 349.74L330.85 353.7L330.85 357.66L330.85 361.63L331.5 361.53L331.5 357.44L331.5 353.35L331.5 349.25L331.5 345.16L332.15 344.3L332.15 348.57L332.15 352.84L332.15 357.12L332.15 361.39L332.8 361.35L332.8 356.97L332.8 352.58L332.8 348.2L332.8 343.81L333.45 342.97L333.45 347.63L333.45 352.28L333.45 356.94L333.45 361.59L334.1 362.39L334.1 357.41L334.1 352.42L334.1 347.44L334.1 342.46L334.75 344.06L334.75 348.55L334.75 353.04L334.75 357.53L334.75 362.02L335.4 361.31L335.4 356.87L335.4 352.43L335.4 348L335.4 343.56L336.05 345.36L336.05 349.14L336.05 352.92L336.05 356.7L336.05 360.48L336.7 359.63L336.7 355.12L336.7 350.6L336.7 346.08L337.35 359.91L337.35 355.29L337.35 350.67L337.35 346.04L338 359.23L338 354.76L338 350.28L338.65 355.72L338.65 357.82" fill="none" stroke="#800000" stroke-width="1.7" stroke-linejoin="round"/>
<path d="M108.1 209.59L112.47 212.76L110.8 217.91L105.4 217.91L103.73 212.76zM133.67 224.01L138.05 227.18L136.38 232.33L130.97 232.33L129.3 227.18zM148.63 231L153.01 234.18L151.34 239.33L145.93 239.33L144.26 234.18zM159.24 237.3L163.62 240.48L161.95 245.62L156.54 245.62L154.87 240.48zM167.48 245.33L171.85 248.51L170.18 253.65L164.77 253.65L163.1 248.51zM174.2 251.45L178.58 254.63L176.91 259.77L171.5 259.77L169.83 254.63zM179.89 252.72L184.27 255.9L182.59 261.04L177.19 261.04L175.52 255.9zM184.82 253.51L189.19 256.69L187.52 261.84L182.11 261.84L180.44 256.69zM189.16 256.27L193.54 259.45L191.87 264.59L186.46 264.59L184.79 259.45zM193.05 263.83L197.42 267.01L195.75 272.16L190.35 272.16L188.68 267.01zM196.57 267.15L200.94 270.33L199.27 275.47L193.86 275.47L192.19 270.33zM199.78 269.15L204.15 272.32L202.48 277.47L197.07 277.47L195.4 272.32zM202.73 271.43L207.1 274.61L205.43 279.76L200.03 279.76L198.35 274.61zM205.46 273.46L209.84 276.64L208.17 281.78L202.76 281.78L201.09 276.64zM208.01 275.77L212.38 278.95L210.71 284.09L205.31 284.09L203.63 278.95zM210.39 276.21L214.76 279.39L213.09 284.53L207.69 284.53L206.02 279.39zM212.63 277.93L217 281.11L215.33 286.25L209.92 286.25L208.25 281.11zM214.74 278.06L219.11 281.24L217.44 286.38L212.03 286.38L210.36 281.24zM216.73 279.46L221.1 282.64L219.43 287.78L214.03 287.78L212.36 282.64zM218.62 282.25L223 285.43L221.33 290.57L215.92 290.57L214.25 285.43zM220.42 282.39L224.8 285.57L223.13 290.71L217.72 290.71L216.05 285.57zM222.14 282.78L226.51 285.95L224.84 291.1L219.43 291.1L217.76 285.95zM223.78 286.19L228.15 289.37L226.48 294.51L221.07 294.51L219.4 289.37zM225.35 289.78L229.72 292.96L228.05 298.1L222.65 298.1L220.97 292.96zM226.86 288.31L231.23 291.49L229.56 296.63L224.15 296.63L222.48 291.49zM228.3 292.89L232.68 296.07L231.01 301.21L225.6 301.21L223.93 296.07zM229.69 293.04L234.07 296.22L232.4 301.36L226.99 301.36L225.32 296.22zM231.04 293.78L235.41 296.96L233.74 302.1L228.33 302.1L226.66 296.96zM232.33 296.22L236.71 299.4L235.03 304.54L229.63 304.54L227.96 299.4zM233.58 292.2L237.96 295.38L236.29 300.52L230.88 300.52L229.21 295.38zM234.79 293.77L239.17 296.95L237.49 302.09L232.09 302.09L230.42 296.95zM235.96 299.25L240.34 302.42L238.67 307.57L233.26 307.57L231.59 302.42zM237.1 300.21L241.47 303.38L239.8 308.53L234.39 308.53L232.72 303.38zM238.2 295.94L242.57 299.11L240.9 304.26L235.5 304.26L233.82 299.11zM239.27 301.28L243.64 304.46L241.97 309.6L236.56 309.6L234.89 304.46zM240.31 297.34L244.68 300.52L243.01 305.66L237.6 305.66L235.93 300.52zM241.32 298.98L245.69 302.16L244.02 307.3L238.61 307.3L236.94 302.16zM242.3 299.66L246.68 302.84L245.01 307.98L239.6 307.98L237.93 302.84zM243.26 301.75L247.64 304.93L245.96 310.07L240.56 310.07L238.89 304.93zM244.19 303.25L248.57 306.43L246.9 311.57L241.49 311.57L239.82 306.43zM245.11 307.75L249.48 310.93L247.81 316.08L242.4 316.08L240.73 310.93zM246 305.27L250.37 308.45L248.7 313.59L243.29 313.59L241.62 308.45zM246.86 303.84L251.24 307.02L249.57 312.16L244.16 312.16L242.49 307.02zM247.71 305.71L252.09 308.88L250.42 314.03L245.01 314.03L243.34 308.88zM248.54 304.52L252.92 307.7L251.24 312.84L245.84 312.84L244.17 307.7zM249.35 305.43L253.73 308.6L252.06 313.75L246.65 313.75L244.98 308.6zM250.92 309.98L255.3 313.15L253.63 318.3L248.22 318.3L246.55 313.15zM252.43 312.03L256.8 315.21L255.13 320.35L249.72 320.35L248.05 315.21zM253.87 311.32L258.25 314.5L256.58 319.64L251.17 319.64L249.5 314.5zM255.27 313.77L259.64 316.95L257.97 322.09L252.56 322.09L250.89 316.95zM256.61 312.96L260.98 316.14L259.31 321.28L253.9 321.28L252.23 316.14zM257.9 319.3L262.28 322.48L260.61 327.62L255.2 327.62L253.53 322.48zM259.15 318.89L263.53 322.07L261.86 327.21L256.45 327.21L254.78 322.07zM260.36 318.88L264.74 322.06L263.07 327.2L257.66 327.2L255.99 322.06zM261.53 323.99L265.91 327.17L264.24 332.32L258.83 332.32L257.16 327.17zM262.6 322.6L266.97 325.78L265.3 330.93L259.9 330.93L258.23 325.78zM262.6 327.22L266.97 330.39L265.3 335.54L259.9 335.54L258.23 330.39zM262.6 331.83L266.97 335L265.3 340.15L259.9 340.15L258.23 335zM263.25 331.41L267.62 334.59L265.95 339.74L260.55 339.74L258.88 334.59zM263.25 327.08L267.62 330.26L265.95 335.4L260.55 335.4L258.88 330.26zM263.25 322.75L267.62 325.93L265.95 331.07L260.55 331.07L258.88 325.93zM263.9 323.2L268.27 326.38L266.6 331.53L261.2 331.53L259.53 326.38zM263.9 327.31L268.27 330.48L266.6 335.63L261.2 335.63L259.53 330.48zM263.9 331.41L268.27 334.59L266.6 339.73L261.2 339.73L259.53 334.59zM264.55 332.67L268.92 335.85L267.25 340.99L261.85 340.99L260.18 335.85zM264.55 328.15L268.92 331.33L267.25 336.47L261.85 336.47L260.18 331.33zM264.55 323.62L268.92 326.8L267.25 331.94L261.85 331.94L260.18 326.8zM265.2 324.26L269.57 327.44L267.9 332.59L262.5 332.59L260.83 327.44zM265.2 328.2L269.57 331.38L267.9 336.53L262.5 336.53L260.83 331.38zM265.2 332.14L269.57 335.32L267.9 340.46L262.5 340.46L260.83 335.32zM265.85 333.15L270.22 336.33L268.55 341.47L263.15 341.47L261.48 336.33zM265.85 328.95L270.22 332.13L268.55 337.27L263.15 337.27L261.48 332.13zM265.85 324.75L270.22 327.93L268.55 333.07L263.15 333.07L261.48 327.93zM266.5 324.88L270.87 328.06L269.2 333.2L263.8 333.2L262.13 328.06zM266.5 328.65L270.87 331.83L269.2 336.97L263.8 336.97L262.13 331.83zM266.5 332.43L270.87 335.6L269.2 340.75L263.8 340.75L262.13 335.6zM267.15 333.17L271.52 336.35L269.85 341.5L264.45 341.5L262.78 336.35zM267.15 328.84L271.52 332.02L269.85 337.16L264.45 337.16L262.78 332.02zM267.15 324.5L271.52 327.68L269.85 332.82L264.45 332.82L262.78 327.68zM267.8 325.17L272.17 328.35L270.5 333.49L265.1 333.49L263.43 328.35zM267.8 329.42L272.17 332.6L270.5 337.74L265.1 337.74L263.43 332.6zM267.8 333.67L272.17 336.85L270.5 341.99L265.1 341.99L263.43 336.85zM268.45 333.3L272.82 336.48L271.15 341.62L265.75 341.62L264.08 336.48zM268.45 329.62L272.82 332.8L271.15 337.94L265.75 337.94L264.08 332.8zM268.45 325.94L272.82 329.12L271.15 334.26L265.75 334.26L264.08 329.12zM269.1 326.41L273.47 329.59L271.8 334.73L266.4 334.73L264.73 329.59zM269.1 330.18L273.47 333.36L271.8 338.5L266.4 338.5L264.73 333.36zM269.1 333.95L273.47 337.13L271.8 342.27L266.4 342.27L264.73 337.13zM269.75 335.17L274.12 338.35L272.45 343.49L267.05 343.49L265.38 338.35zM269.75 330.81L274.12 333.99L272.45 339.13L267.05 339.13L265.38 333.99zM269.75 326.45L274.12 329.63L272.45 334.77L267.05 334.77L265.38 329.63zM270.4 326.67L274.77 329.85L273.1 334.99L267.7 334.99L266.03 329.85zM270.4 331.02L274.77 334.2L273.1 339.34L267.7 339.34L266.03 334.2zM270.4 335.36L274.77 338.54L273.1 343.69L267.7 343.69L266.03 338.54zM271.05 337L275.42 340.18L273.75 345.33L268.35 345.33L266.68 340.18zM271.05 332.5L275.42 335.68L273.75 340.82L268.35 340.82L266.68 335.68zM271.05 327.99L275.42 331.17L273.75 336.31L268.35 336.31L266.68 331.17zM271.7 327.3L276.07 330.47L274.4 335.62L269 335.62L267.33 330.47zM271.7 330.86L276.07 334.04L274.4 339.19L269 339.19L267.33 334.04zM271.7 334.43L276.07 337.61L274.4 342.75L269 342.75L267.33 337.61zM271.7 338L276.07 341.18L274.4 346.32L269 346.32L267.33 341.18zM272.35 328.28L276.72 331.46L275.05 336.6L269.65 336.6L267.98 331.46zM272.35 333.11L276.72 336.29L275.05 341.44L269.65 341.44L267.98 336.29zM272.35 337.95L276.72 341.13L275.05 346.27L269.65 346.27L267.98 341.13zM273 339.25L277.37 342.42L275.7 347.57L270.3 347.57L268.63 342.42zM273 335.88L277.37 339.06L275.7 344.2L270.3 344.2L268.63 339.06zM273 332.51L277.37 335.69L275.7 340.83L270.3 340.83L268.63 335.69zM273 329.14L277.37 332.32L275.7 337.46L270.3 337.46L268.63 332.32zM273.65 339.67L278.02 342.84L276.35 347.99L270.95 347.99L269.28 342.84zM273.65 335.36L278.02 338.54L276.35 343.68L270.95 343.68L269.28 338.54zM273.65 331.06L278.02 334.24L276.35 339.38L270.95 339.38L269.28 334.24zM274.3 332.14L278.67 335.32L277 340.47L271.6 340.47L269.93 335.32zM274.3 336.88L278.67 340.06L277 345.21L271.6 345.21L269.93 340.06zM274.3 341.62L278.67 344.8L277 349.95L271.6 349.95L269.93 344.8zM274.95 342.07L279.32 345.25L277.65 350.39L272.25 350.39L270.58 345.25zM274.95 338.1L279.32 341.28L277.65 346.42L272.25 346.42L270.58 341.28zM274.95 334.13L279.32 337.31L277.65 342.45L272.25 342.45L270.58 337.31zM275.6 335.39L279.97 338.57L278.3 343.72L272.9 343.72L271.23 338.57zM275.6 339.58L279.97 342.76L278.3 347.9L272.9 347.9L271.23 342.76zM275.6 343.76L279.97 346.94L278.3 352.08L272.9 352.08L271.23 346.94zM276.25 347L280.62 350.18L278.95 355.32L273.55 355.32L271.88 350.18zM276.25 342.14L280.62 345.31L278.95 350.46L273.55 350.46L271.88 345.31zM276.25 337.27L280.62 340.45L278.95 345.59L273.55 345.59L271.88 340.45zM276.9 337.88L281.27 341.05L279.6 346.2L274.2 346.2L272.53 341.05zM276.9 341.39L281.27 344.57L279.6 349.71L274.2 349.71L272.53 344.57zM276.9 344.9L281.27 348.08L279.6 353.23L274.2 353.23L272.53 348.08zM276.9 348.42L281.27 351.6L279.6 356.74L274.2 356.74L272.53 351.6zM277.55 339.13L281.92 342.31L280.25 347.45L274.85 347.45L273.18 342.31zM277.55 343.13L281.92 346.31L280.25 351.45L274.85 351.45L273.18 346.31zM277.55 347.14L281.92 350.32L280.25 355.46L274.85 355.46L273.18 350.32zM277.55 351.14L281.92 354.32L280.25 359.46L274.85 359.46L273.18 354.32zM278.2 339.78L282.57 342.96L280.9 348.1L275.5 348.1L273.83 342.96zM278.2 343.76L282.57 346.94L280.9 352.08L275.5 352.08L273.83 346.94zM278.2 347.74L282.57 350.92L280.9 356.06L275.5 356.06L273.83 350.92zM278.2 351.72L282.57 354.9L280.9 360.04L275.5 360.04L273.83 354.9zM278.85 340.4L283.22 343.57L281.55 348.72L276.15 348.72L274.48 343.57zM278.85 344.14L283.22 347.32L281.55 352.46L276.15 352.46L274.48 347.32zM278.85 347.89L283.22 351.06L281.55 356.21L276.15 356.21L274.48 351.06zM278.85 351.63L283.22 354.81L281.55 359.95L276.15 359.95L274.48 354.81zM279.5 341.53L283.87 344.71L282.2 349.85L276.8 349.85L275.13 344.71zM279.5 345.09L283.87 348.27L282.2 353.41L276.8 353.41L275.13 348.27zM279.5 348.65L283.87 351.83L282.2 356.98L276.8 356.98L275.13 351.83zM279.5 352.22L283.87 355.4L282.2 360.54L276.8 360.54L275.13 355.4zM280.15 341.16L284.52 344.34L282.85 349.49L277.45 349.49L275.78 344.34zM280.15 345.04L284.52 348.22L282.85 353.36L277.45 353.36L275.78 348.22zM280.15 348.92L284.52 352.1L282.85 357.24L277.45 357.24L275.78 352.1zM280.15 352.8L284.52 355.98L282.85 361.12L277.45 361.12L275.78 355.98zM280.8 342.19L285.17 345.37L283.5 350.51L278.1 350.51L276.43 345.37zM280.8 345.87L285.17 349.04L283.5 354.19L278.1 354.19L276.43 349.04zM280.8 349.54L285.17 352.72L283.5 357.86L278.1 357.86L276.43 352.72zM280.8 353.22L285.17 356.4L283.5 361.54L278.1 361.54L276.43 356.4zM281.45 342.68L285.82 345.86L284.15 351L278.75 351L277.08 345.86zM281.45 346.4L285.82 349.58L284.15 354.72L278.75 354.72L277.08 349.58zM281.45 350.12L285.82 353.3L284.15 358.44L278.75 358.44L277.08 353.3zM281.45 353.84L285.82 357.02L284.15 362.16L278.75 362.16L277.08 357.02zM282.1 344.18L286.47 347.36L284.8 352.5L279.4 352.5L277.73 347.36zM282.1 349.04L286.47 352.21L284.8 357.36L279.4 357.36L277.73 352.21zM282.1 353.89L286.47 357.07L284.8 362.21L279.4 362.21L277.73 357.07zM282.75 353.02L287.12 356.2L285.45 361.34L280.05 361.34L278.38 356.2zM282.75 348.58L287.12 351.76L285.45 356.9L280.05 356.9L278.38 351.76zM282.75 344.14L287.12 347.32L285.45 352.46L280.05 352.46L278.38 347.32zM283.4 344.25L287.77 347.43L286.1 352.58L280.7 352.58L279.03 347.43zM283.4 348.44L287.77 351.62L286.1 356.76L280.7 356.76L279.03 351.62zM283.4 352.62L287.77 355.8L286.1 360.95L280.7 360.95L279.03 355.8zM284.05 353.41L288.42 356.59L286.75 361.73L281.35 361.73L279.68 356.59zM284.05 348.62L288.42 351.8L286.75 356.95L281.35 356.95L279.68 351.8zM284.05 343.84L288.42 347.02L286.75 352.16L281.35 352.16L279.68 347.02zM284.7 343.64L289.07 346.82L287.4 351.96L282 351.96L280.33 346.82zM284.7 348.28L289.07 351.46L287.4 356.6L282 356.6L280.33 351.46zM284.7 352.92L289.07 356.1L287.4 361.24L282 361.24L280.33 356.1zM285.35 352.34L289.72 355.52L288.05 360.66L282.65 360.66L280.98 355.52zM285.35 347.86L289.72 351.04L288.05 356.18L282.65 356.18L280.98 351.04zM285.35 343.37L289.72 346.55L288.05 351.69L282.65 351.69L280.98 346.55zM286 343.11L290.37 346.29L288.7 351.43L283.3 351.43L281.63 346.29zM286 346.58L290.37 349.76L288.7 354.9L283.3 354.9L281.63 349.76zM286 350.05L290.37 353.23L288.7 358.37L283.3 358.37L281.63 353.23zM286 353.52L290.37 356.7L288.7 361.85L283.3 361.85L281.63 356.7zM286.65 343.79L291.02 346.97L289.35 352.11L283.95 352.11L282.28 346.97zM286.65 348.5L291.02 351.68L289.35 356.82L283.95 356.82L282.28 351.68zM286.65 353.2L291.02 356.38L289.35 361.52L283.95 361.52L282.28 356.38zM287.3 354.46L291.67 357.63L290 362.78L284.6 362.78L282.93 357.63zM287.3 350.46L291.67 353.64L290 358.78L284.6 358.78L282.93 353.64zM287.3 346.46L291.67 349.64L290 354.78L284.6 354.78L282.93 349.64zM287.3 342.46L291.67 345.64L290 350.79L284.6 350.79L282.93 345.64zM287.95 354.74L292.32 357.92L290.65 363.07L285.25 363.07L283.58 357.92zM287.95 350.75L292.32 353.93L290.65 359.07L285.25 359.07L283.58 353.93zM287.95 346.76L292.32 349.94L290.65 355.08L285.25 355.08L283.58 349.94zM287.95 342.76L292.32 345.94L290.65 351.08L285.25 351.08L283.58 345.94zM288.6 355.62L292.97 358.79L291.3 363.94L285.9 363.94L284.23 358.79zM288.6 350.94L292.97 354.12L291.3 359.26L285.9 359.26L284.23 354.12zM288.6 346.26L292.97 349.44L291.3 354.59L285.9 354.59L284.23 349.44zM288.6 341.59L292.97 344.77L291.3 349.91L285.9 349.91L284.23 344.77zM289.25 356.85L293.62 360.03L291.95 365.17L286.55 365.17L284.88 360.03zM289.25 351.87L293.62 355.05L291.95 360.2L286.55 360.2L284.88 355.05zM289.25 346.9L293.62 350.08L291.95 355.22L286.55 355.22L284.88 350.08zM289.25 341.92L293.62 345.1L291.95 350.24L286.55 350.24L284.88 345.1zM289.9 356.76L294.27 359.94L292.6 365.09L287.2 365.09L285.53 359.94zM289.9 353L294.27 356.18L292.6 361.32L287.2 361.32L285.53 356.18zM289.9 349.24L294.27 352.42L292.6 357.56L287.2 357.56L285.53 352.42zM289.9 345.48L294.27 348.66L292.6 353.8L287.2 353.8L285.53 348.66zM289.9 341.72L294.27 344.89L292.6 350.04L287.2 350.04L285.53 344.89zM290.55 340.28L294.92 343.45L293.25 348.6L287.85 348.6L286.18 343.45zM290.55 344.39L294.92 347.57L293.25 352.71L287.85 352.71L286.18 347.57zM290.55 348.51L294.92 351.69L293.25 356.83L287.85 356.83L286.18 351.69zM290.55 352.62L294.92 355.8L293.25 360.94L287.85 360.94L286.18 355.8zM290.55 356.74L294.92 359.92L293.25 365.06L287.85 365.06L286.18 359.92zM291.2 356.93L295.57 360.11L293.9 365.25L288.5 365.25L286.83 360.11zM291.2 352.63L295.57 355.81L293.9 360.95L288.5 360.95L286.83 355.81zM291.2 348.34L295.57 351.52L293.9 356.66L288.5 356.66L286.83 351.52zM291.2 344.05L295.57 347.23L293.9 352.37L288.5 352.37L286.83 347.23zM291.2 339.75L295.57 342.93L293.9 348.07L288.5 348.07L286.83 342.93zM291.85 340.01L296.22 343.19L294.55 348.34L289.15 348.34L287.48 343.19zM291.85 344.22L296.22 347.39L294.55 352.54L289.15 352.54L287.48 347.39zM291.85 348.42L296.22 351.6L294.55 356.74L289.15 356.74L287.48 351.6zM291.85 352.62L296.22 355.8L294.55 360.94L289.15 360.94L287.48 355.8zM291.85 356.82L296.22 360L294.55 365.14L289.15 365.14L287.48 360zM292.5 355.92L296.87 359.1L295.2 364.24L289.8 364.24L288.13 359.1zM292.5 351.95L296.87 355.13L295.2 360.27L289.8 360.27L288.13 355.13zM292.5 347.98L296.87 351.15L295.2 356.3L289.8 356.3L288.13 351.15zM292.5 344L296.87 347.18L295.2 352.33L289.8 352.33L288.13 347.18zM292.5 340.03L296.87 343.21L295.2 348.36L289.8 348.36L288.13 343.21zM293.15 338.71L297.52 341.89L295.85 347.03L290.45 347.03L288.78 341.89zM293.15 343.11L297.52 346.29L295.85 351.43L290.45 351.43L288.78 346.29zM293.15 347.51L297.52 350.69L295.85 355.83L290.45 355.83L288.78 350.69zM293.15 351.91L297.52 355.09L295.85 360.23L290.45 360.23L288.78 355.09zM293.15 356.31L297.52 359.49L295.85 364.63L290.45 364.63L288.78 359.49zM293.8 355.44L298.17 358.62L296.5 363.77L291.1 363.77L289.43 358.62zM293.8 351.13L298.17 354.31L296.5 359.45L291.1 359.45L289.43 354.31zM293.8 346.82L298.17 350L296.5 355.14L291.1 355.14L289.43 350zM293.8 342.51L298.17 345.68L296.5 350.83L291.1 350.83L289.43 345.68zM293.8 338.19L298.17 341.37L296.5 346.51L291.1 346.51L289.43 341.37zM294.45 337.97L298.82 341.15L297.15 346.29L291.75 346.29L290.08 341.15zM294.45 342.27L298.82 345.45L297.15 350.59L291.75 350.59L290.08 345.45zM294.45 346.57L298.82 349.75L297.15 354.89L291.75 354.89L290.08 349.75zM294.45 350.86L298.82 354.04L297.15 359.19L291.75 359.19L290.08 354.04zM294.45 355.16L298.82 358.34L297.15 363.48L291.75 363.48L290.08 358.34zM295.1 354.47L299.47 357.65L297.8 362.79L292.4 362.79L290.73 357.65zM295.1 350.49L299.47 353.67L297.8 358.81L292.4 358.81L290.73 353.67zM295.1 346.51L299.47 349.68L297.8 354.83L292.4 354.83L290.73 349.68zM295.1 342.52L299.47 345.7L297.8 350.84L292.4 350.84L290.73 345.7zM295.1 338.54L299.47 341.72L297.8 346.86L292.4 346.86L290.73 341.72zM295.75 338.11L300.12 341.29L298.45 346.43L293.05 346.43L291.38 341.29zM295.75 342.4L300.12 345.58L298.45 350.72L293.05 350.72L291.38 345.58zM295.75 346.69L300.12 349.87L298.45 355.02L293.05 355.02L291.38 349.87zM295.75 350.99L300.12 354.16L298.45 359.31L293.05 359.31L291.38 354.16zM295.75 355.28L300.12 358.46L298.45 363.6L293.05 363.6L291.38 358.46zM296.4 355.31L300.77 358.48L299.1 363.63L293.7 363.63L292.03 358.48zM296.4 351.23L300.77 354.4L299.1 359.55L293.7 359.55L292.03 354.4zM296.4 347.15L300.77 350.32L299.1 355.47L293.7 355.47L292.03 350.32zM296.4 343.07L300.77 346.24L299.1 351.39L293.7 351.39L292.03 346.24zM296.4 338.99L300.77 342.16L299.1 347.31L293.7 347.31L292.03 342.16zM297.05 339.47L301.42 342.65L299.75 347.79L294.35 347.79L292.68 342.65zM297.05 343.43L301.42 346.61L299.75 351.75L294.35 351.75L292.68 346.61zM297.05 347.39L301.42 350.57L299.75 355.71L294.35 355.71L292.68 350.57zM297.05 351.34L301.42 354.52L299.75 359.67L294.35 359.67L292.68 354.52zM297.05 355.3L301.42 358.48L299.75 363.62L294.35 363.62L292.68 358.48zM297.7 355.6L302.07 358.78L300.4 363.92L295 363.92L293.33 358.78zM297.7 351.8L302.07 354.98L300.4 360.12L295 360.12L293.33 354.98zM297.7 348L302.07 351.17L300.4 356.32L295 356.32L293.33 351.17zM297.7 344.2L302.07 347.37L300.4 352.52L295 352.52L293.33 347.37zM297.7 340.39L302.07 343.57L300.4 348.72L295 348.72L293.33 343.57zM298.35 340.34L302.72 343.52L301.05 348.66L295.65 348.66L293.98 343.52zM298.35 344.15L302.72 347.33L301.05 352.47L295.65 352.47L293.98 347.33zM298.35 347.96L302.72 351.14L301.05 356.28L295.65 356.28L293.98 351.14zM298.35 351.77L302.72 354.95L301.05 360.09L295.65 360.09L293.98 354.95zM298.35 355.58L302.72 358.76L301.05 363.9L295.65 363.9L293.98 358.76zM299 355.37L303.37 358.54L301.7 363.69L296.3 363.69L294.63 358.54zM299 350.44L303.37 353.61L301.7 358.76L296.3 358.76L294.63 353.61zM299 345.51L303.37 348.68L301.7 353.83L296.3 353.83L294.63 348.68zM299 340.58L303.37 343.75L301.7 348.9L296.3 348.9L294.63 343.75zM299.65 355.09L304.02 358.27L302.35 363.41L296.95 363.41L295.28 358.27zM299.65 350.52L304.02 353.7L302.35 358.84L296.95 358.84L295.28 353.7zM299.65 345.95L304.02 349.13L302.35 354.27L296.95 354.27L295.28 349.13zM299.65 341.38L304.02 344.56L302.35 349.7L296.95 349.7L295.28 344.56zM300.3 356.08L304.67 359.25L303 364.4L297.6 364.4L295.93 359.25zM300.3 351.17L304.67 354.35L303 359.5L297.6 359.5L295.93 354.35zM300.3 346.27L304.67 349.45L303 354.59L297.6 354.59L295.93 349.45zM300.3 341.37L304.67 344.55L303 349.69L297.6 349.69L295.93 344.55zM300.95 355.45L305.32 358.63L303.65 363.78L298.25 363.78L296.58 358.63zM300.95 351.58L305.32 354.76L303.65 359.9L298.25 359.9L296.58 354.76zM300.95 347.71L305.32 350.89L303.65 356.03L298.25 356.03L296.58 350.89zM300.95 343.84L305.32 347.02L303.65 352.16L298.25 352.16L296.58 347.02zM300.95 339.97L305.32 343.14L303.65 348.29L298.25 348.29L296.58 343.14zM301.6 339.73L305.97 342.91L304.3 348.05L298.9 348.05L297.23 342.91zM301.6 343.93L305.97 347.11L304.3 352.26L298.9 352.26L297.23 347.11zM301.6 348.14L305.97 351.32L304.3 356.46L298.9 356.46L297.23 351.32zM301.6 352.35L305.97 355.52L304.3 360.67L298.9 360.67L297.23 355.52zM301.6 356.55L305.97 359.73L304.3 364.87L298.9 364.87L297.23 359.73zM302.25 356.15L306.62 359.33L304.95 364.47L299.55 364.47L297.88 359.33zM302.25 351.9L306.62 355.08L304.95 360.22L299.55 360.22L297.88 355.08zM302.25 347.66L306.62 350.84L304.95 355.98L299.55 355.98L297.88 350.84zM302.25 343.41L306.62 346.59L304.95 351.74L299.55 351.74L297.88 346.59zM302.25 339.17L306.62 342.35L304.95 347.49L299.55 347.49L297.88 342.35zM302.9 338.72L307.27 341.9L305.6 347.04L300.2 347.04L298.53 341.9zM302.9 342.99L307.27 346.17L305.6 351.31L300.2 351.31L298.53 346.17zM302.9 347.25L307.27 350.43L305.6 355.57L300.2 355.57L298.53 350.43zM302.9 351.52L307.27 354.7L305.6 359.84L300.2 359.84L298.53 354.7zM302.9 355.79L307.27 358.96L305.6 364.11L300.2 364.11L298.53 358.96zM303.55 356.03L307.92 359.21L306.25 364.35L300.85 364.35L299.18 359.21zM303.55 351.58L307.92 354.76L306.25 359.9L300.85 359.9L299.18 354.76zM303.55 347.14L307.92 350.32L306.25 355.46L300.85 355.46L299.18 350.32zM303.55 342.69L307.92 345.87L306.25 351.02L300.85 351.02L299.18 345.87zM303.55 338.25L307.92 341.43L306.25 346.57L300.85 346.57L299.18 341.43zM304.2 337.59L308.57 340.77L306.9 345.91L301.5 345.91L299.83 340.77zM304.2 342.4L308.57 345.57L306.9 350.72L301.5 350.72L299.83 345.57zM304.2 347.2L308.57 350.38L306.9 355.52L301.5 355.52L299.83 350.38zM304.2 352.01L308.57 355.19L306.9 360.33L301.5 360.33L299.83 355.19zM304.2 356.82L308.57 360L306.9 365.14L301.5 365.14L299.83 360zM304.85 357.37L309.22 360.54L307.55 365.69L302.15 365.69L300.48 360.54zM304.85 353.31L309.22 356.49L307.55 361.63L302.15 361.63L300.48 356.49zM304.85 349.26L309.22 352.43L307.55 357.58L302.15 357.58L300.48 352.43zM304.85 345.2L309.22 348.38L307.55 353.52L302.15 353.52L300.48 348.38zM304.85 341.15L309.22 344.32L307.55 349.47L302.15 349.47L300.48 344.32zM304.85 337.09L309.22 340.27L307.55 345.41L302.15 345.41L300.48 340.27zM305.5 357.5L309.87 360.67L308.2 365.82L302.8 365.82L301.13 360.67zM305.5 352.73L309.87 355.91L308.2 361.05L302.8 361.05L301.13 355.91zM305.5 347.96L309.87 351.14L308.2 356.28L302.8 356.28L301.13 351.14zM305.5 343.19L309.87 346.37L308.2 351.52L302.8 351.52L301.13 346.37zM305.5 338.43L309.87 341.61L308.2 346.75L302.8 346.75L301.13 341.61zM306.15 338.67L310.52 341.85L308.85 346.99L303.45 346.99L301.78 341.85zM306.15 343.32L310.52 346.5L308.85 351.64L303.45 351.64L301.78 346.5zM306.15 347.98L310.52 351.16L308.85 356.3L303.45 356.3L301.78 351.16zM306.15 352.63L310.52 355.81L308.85 360.95L303.45 360.95L301.78 355.81zM306.15 357.29L310.52 360.47L308.85 365.61L303.45 365.61L301.78 360.47zM306.8 357.7L311.17 360.88L309.5 366.02L304.1 366.02L302.43 360.88zM306.8 353.19L311.17 356.37L309.5 361.51L304.1 361.51L302.43 356.37zM306.8 348.68L311.17 351.86L309.5 357L304.1 357L302.43 351.86zM306.8 344.17L311.17 347.35L309.5 352.49L304.1 352.49L302.43 347.35zM306.8 339.66L311.17 342.84L309.5 347.98L304.1 347.98L302.43 342.84zM307.45 339.44L311.82 342.61L310.15 347.76L304.75 347.76L303.08 342.61zM307.45 344.07L311.82 347.24L310.15 352.39L304.75 352.39L303.08 347.24zM307.45 348.7L311.82 351.88L310.15 357.02L304.75 357.02L303.08 351.88zM307.45 353.33L311.82 356.51L310.15 361.65L304.75 361.65L303.08 356.51zM307.45 357.96L311.82 361.14L310.15 366.28L304.75 366.28L303.08 361.14zM308.1 358.32L312.47 361.5L310.8 366.64L305.4 366.64L303.73 361.5zM308.1 353.7L312.47 356.87L310.8 362.02L305.4 362.02L303.73 356.87zM308.1 349.07L312.47 352.25L310.8 357.4L305.4 357.4L303.73 352.25zM308.1 344.45L312.47 347.63L310.8 352.77L305.4 352.77L303.73 347.63zM308.1 339.83L312.47 343.01L310.8 348.15L305.4 348.15L303.73 343.01zM308.75 340.8L313.12 343.98L311.45 349.12L306.05 349.12L304.38 343.98zM308.75 345.32L313.12 348.5L311.45 353.65L306.05 353.65L304.38 348.5zM308.75 349.85L313.12 353.02L311.45 358.17L306.05 358.17L304.38 353.02zM308.75 354.37L313.12 357.55L311.45 362.69L306.05 362.69L304.38 357.55zM308.75 358.89L313.12 362.07L311.45 367.21L306.05 367.21L304.38 362.07zM309.4 358.59L313.77 361.76L312.1 366.91L306.7 366.91L305.03 361.76zM309.4 354.31L313.77 357.49L312.1 362.63L306.7 362.63L305.03 357.49zM309.4 350.04L313.77 353.21L312.1 358.36L306.7 358.36L305.03 353.21zM309.4 345.76L313.77 348.94L312.1 354.08L306.7 354.08L305.03 348.94zM309.4 341.49L313.77 344.67L312.1 349.81L306.7 349.81L305.03 344.67zM310.05 340.81L314.42 343.99L312.75 349.13L307.35 349.13L305.68 343.99zM310.05 345.25L314.42 348.43L312.75 353.58L307.35 353.58L305.68 348.43zM310.05 349.7L314.42 352.88L312.75 358.02L307.35 358.02L305.68 352.88zM310.05 354.15L314.42 357.33L312.75 362.47L307.35 362.47L305.68 357.33zM310.05 358.6L314.42 361.77L312.75 366.92L307.35 366.92L305.68 361.77zM310.7 359.66L315.07 362.84L313.4 367.98L308 367.98L306.33 362.84zM310.7 354.95L315.07 358.12L313.4 363.27L308 363.27L306.33 358.12zM310.7 350.23L315.07 353.41L313.4 358.56L308 358.56L306.33 353.41zM310.7 345.52L315.07 348.7L313.4 353.84L308 353.84L306.33 348.7zM310.7 340.81L315.07 343.99L313.4 349.13L308 349.13L306.33 343.99zM311.35 342.07L315.72 345.25L314.05 350.39L308.65 350.39L306.98 345.25zM311.35 346.59L315.72 349.77L314.05 354.91L308.65 354.91L306.98 349.77zM311.35 351.11L315.72 354.29L314.05 359.44L308.65 359.44L306.98 354.29zM311.35 355.64L315.72 358.82L314.05 363.96L308.65 363.96L306.98 358.82zM311.35 360.16L315.72 363.34L314.05 368.48L308.65 368.48L306.98 363.34zM312 360.76L316.37 363.94L314.7 369.09L309.3 369.09L307.63 363.94zM312 356.2L316.37 359.38L314.7 364.53L309.3 364.53L307.63 359.38zM312 351.64L316.37 354.82L314.7 359.97L309.3 359.97L307.63 354.82zM312 347.08L316.37 350.26L314.7 355.41L309.3 355.41L307.63 350.26zM312 342.52L316.37 345.7L314.7 350.85L309.3 350.85L307.63 345.7zM312.65 343.14L317.02 346.32L315.35 351.46L309.95 351.46L308.28 346.32zM312.65 347.46L317.02 350.63L315.35 355.78L309.95 355.78L308.28 350.63zM312.65 351.77L317.02 354.95L315.35 360.1L309.95 360.1L308.28 354.95zM312.65 356.09L317.02 359.27L315.35 364.41L309.95 364.41L308.28 359.27zM312.65 360.41L317.02 363.59L315.35 368.73L309.95 368.73L308.28 363.59zM313.3 361.24L317.67 364.42L316 369.56L310.6 369.56L308.93 364.42zM313.3 356.83L317.67 360L316 365.15L310.6 365.15L308.93 360zM313.3 352.41L317.67 355.59L316 360.73L310.6 360.73L308.93 355.59zM313.3 348L317.67 351.18L316 356.32L310.6 356.32L308.93 351.18zM313.3 343.59L317.67 346.77L316 351.91L310.6 351.91L308.93 346.77zM313.95 344.91L318.32 348.08L316.65 353.23L311.25 353.23L309.58 348.08zM313.95 349L318.32 352.18L316.65 357.32L311.25 357.32L309.58 352.18zM313.95 353.1L318.32 356.28L316.65 361.42L311.25 361.42L309.58 356.28zM313.95 357.2L318.32 360.37L316.65 365.52L311.25 365.52L309.58 360.37zM313.95 361.29L318.32 364.47L316.65 369.61L311.25 369.61L309.58 364.47zM314.6 361.92L318.97 365.1L317.3 370.24L311.9 370.24L310.23 365.1zM314.6 357.76L318.97 360.94L317.3 366.08L311.9 366.08L310.23 360.94zM314.6 353.59L318.97 356.77L317.3 361.91L311.9 361.91L310.23 356.77zM314.6 349.43L318.97 352.61L317.3 357.75L311.9 357.75L310.23 352.61zM314.6 345.26L318.97 348.44L317.3 353.58L311.9 353.58L310.23 348.44zM315.25 347.03L319.62 350.21L317.95 355.35L312.55 355.35L310.88 350.21zM315.25 350.83L319.62 354.01L317.95 359.15L312.55 359.15L310.88 354.01zM315.25 354.64L319.62 357.81L317.95 362.96L312.55 362.96L310.88 357.81zM315.25 358.44L319.62 361.62L317.95 366.76L312.55 366.76L310.88 361.62zM315.25 362.24L319.62 365.42L317.95 370.57L312.55 370.57L310.88 365.42zM315.9 362.31L320.27 365.49L318.6 370.63L313.2 370.63L311.53 365.49zM315.9 358.5L320.27 361.68L318.6 366.82L313.2 366.82L311.53 361.68zM315.9 354.69L320.27 357.87L318.6 363.02L313.2 363.02L311.53 357.87zM315.9 350.89L320.27 354.07L318.6 359.21L313.2 359.21L311.53 354.07zM315.9 347.08L320.27 350.26L318.6 355.4L313.2 355.4L311.53 350.26zM316.55 346.99L320.92 350.17L319.25 355.31L313.85 355.31L312.18 350.17zM316.55 351.93L320.92 355.11L319.25 360.25L313.85 360.25L312.18 355.11zM316.55 356.87L320.92 360.04L319.25 365.19L313.85 365.19L312.18 360.04zM316.55 361.8L320.92 364.98L319.25 370.12L313.85 370.12L312.18 364.98zM317.2 347.5L321.57 350.68L319.9 355.82L314.5 355.82L312.83 350.68zM317.2 352.15L321.57 355.33L319.9 360.47L314.5 360.47L312.83 355.33zM317.2 356.8L321.57 359.98L319.9 365.12L314.5 365.12L312.83 359.98zM317.2 361.45L321.57 364.63L319.9 369.77L314.5 369.77L312.83 364.63zM317.85 348.09L322.22 351.27L320.55 356.41L315.15 356.41L313.48 351.27zM317.85 352.52L322.22 355.7L320.55 360.84L315.15 360.84L313.48 355.7zM317.85 356.95L322.22 360.13L320.55 365.27L315.15 365.27L313.48 360.13zM317.85 361.38L322.22 364.56L320.55 369.7L315.15 369.7L313.48 364.56zM318.5 348.44L322.87 351.62L321.2 356.76L315.8 356.76L314.13 351.62zM318.5 352.64L322.87 355.82L321.2 360.96L315.8 360.96L314.13 355.82zM318.5 356.84L322.87 360.02L321.2 365.16L315.8 365.16L314.13 360.02zM318.5 361.04L322.87 364.22L321.2 369.36L315.8 369.36L314.13 364.22zM319.15 348.14L323.52 351.32L321.85 356.46L316.45 356.46L314.78 351.32zM319.15 352.44L323.52 355.62L321.85 360.76L316.45 360.76L314.78 355.62zM319.15 356.73L323.52 359.91L321.85 365.05L316.45 365.05L314.78 359.91zM319.15 361.02L323.52 364.2L321.85 369.35L316.45 369.35L314.78 364.2zM319.8 348.64L324.17 351.81L322.5 356.96L317.1 356.96L315.43 351.81zM319.8 352.98L324.17 356.16L322.5 361.3L317.1 361.3L315.43 356.16zM319.8 357.32L324.17 360.5L322.5 365.65L317.1 365.65L315.43 360.5zM319.8 361.67L324.17 364.85L322.5 369.99L317.1 369.99L315.43 364.85zM320.45 347.92L324.82 351.1L323.15 356.24L317.75 356.24L316.08 351.1zM320.45 352.25L324.82 355.43L323.15 360.57L317.75 360.57L316.08 355.43zM320.45 356.59L324.82 359.76L323.15 364.91L317.75 364.91L316.08 359.76zM320.45 360.92L324.82 364.1L323.15 369.24L317.75 369.24L316.08 364.1zM321.1 348.26L325.47 351.44L323.8 356.58L318.4 356.58L316.73 351.44zM321.1 352.75L325.47 355.93L323.8 361.07L318.4 361.07L316.73 355.93zM321.1 357.24L325.47 360.42L323.8 365.56L318.4 365.56L316.73 360.42zM321.1 361.73L325.47 364.9L323.8 370.05L318.4 370.05L316.73 364.9zM321.75 347.93L326.12 351.11L324.45 356.25L319.05 356.25L317.38 351.11zM321.75 352.51L326.12 355.69L324.45 360.83L319.05 360.83L317.38 355.69zM321.75 357.09L326.12 360.27L324.45 365.41L319.05 365.41L317.38 360.27zM321.75 361.67L326.12 364.84L324.45 369.99L319.05 369.99L317.38 364.84zM322.4 347.41L326.77 350.59L325.1 355.73L319.7 355.73L318.03 350.59zM322.4 351.9L326.77 355.08L325.1 360.22L319.7 360.22L318.03 355.08zM322.4 356.4L326.77 359.57L325.1 364.72L319.7 364.72L318.03 359.57zM322.4 360.89L326.77 364.07L325.1 369.21L319.7 369.21L318.03 364.07zM323.05 347.48L327.42 350.66L325.75 355.8L320.35 355.8L318.68 350.66zM323.05 352.1L327.42 355.28L325.75 360.42L320.35 360.42L318.68 355.28zM323.05 356.71L327.42 359.89L325.75 365.04L320.35 365.04L318.68 359.89zM323.05 361.33L327.42 364.51L325.75 369.65L320.35 369.65L318.68 364.51zM323.7 346.43L328.07 349.61L326.4 354.75L321 354.75L319.33 349.61zM323.7 351.1L328.07 354.28L326.4 359.42L321 359.42L319.33 354.28zM323.7 355.77L328.07 358.95L326.4 364.1L321 364.1L319.33 358.95zM323.7 360.44L328.07 363.62L326.4 368.77L321 368.77L319.33 363.62zM324.35 347.17L328.72 350.35L327.05 355.49L321.65 355.49L319.98 350.35zM324.35 351.34L328.72 354.51L327.05 359.66L321.65 359.66L319.98 354.51zM324.35 355.5L328.72 358.68L327.05 363.82L321.65 363.82L319.98 358.68zM324.35 359.66L328.72 362.84L327.05 367.98L321.65 367.98L319.98 362.84zM325 346.31L329.37 349.49L327.7 354.63L322.3 354.63L320.63 349.49zM325 350.69L329.37 353.87L327.7 359.01L322.3 359.01L320.63 353.87zM325 355.07L329.37 358.25L327.7 363.39L322.3 363.39L320.63 358.25zM325 359.45L329.37 362.63L327.7 367.77L322.3 367.77L320.63 362.63zM325.65 346.48L330.02 349.66L328.35 354.81L322.95 354.81L321.28 349.66zM325.65 350.51L330.02 353.69L328.35 358.83L322.95 358.83L321.28 353.69zM325.65 354.54L330.02 357.72L328.35 362.86L322.95 362.86L321.28 357.72zM325.65 358.56L330.02 361.74L328.35 366.89L322.95 366.89L321.28 361.74zM326.3 345.54L330.67 348.72L329 353.86L323.6 353.86L321.93 348.72zM326.3 349.71L330.67 352.89L329 358.04L323.6 358.04L321.93 352.89zM326.3 353.89L330.67 357.07L329 362.21L323.6 362.21L321.93 357.07zM326.3 358.06L330.67 361.24L329 366.39L323.6 366.39L321.93 361.24zM326.95 344.66L331.32 347.84L329.65 352.98L324.25 352.98L322.58 347.84zM326.95 349.25L331.32 352.43L329.65 357.57L324.25 357.57L322.58 352.43zM326.95 353.83L331.32 357.01L329.65 362.16L324.25 362.16L322.58 357.01zM326.95 358.42L331.32 361.6L329.65 366.74L324.25 366.74L322.58 361.6zM327.6 343.98L331.97 347.16L330.3 352.3L324.9 352.3L323.23 347.16zM327.6 348.41L331.97 351.59L330.3 356.73L324.9 356.73L323.23 351.59zM327.6 352.83L331.97 356.01L330.3 361.15L324.9 361.15L323.23 356.01zM327.6 357.26L331.97 360.44L330.3 365.58L324.9 365.58L323.23 360.44zM328.25 344.1L332.62 347.28L330.95 352.42L325.55 352.42L323.88 347.28zM328.25 348.5L332.62 351.67L330.95 356.82L325.55 356.82L323.88 351.67zM328.25 352.89L332.62 356.07L330.95 361.21L325.55 361.21L323.88 356.07zM328.25 357.29L332.62 360.47L330.95 365.61L325.55 365.61L323.88 360.47zM328.9 343.2L333.27 346.38L331.6 351.53L326.2 351.53L324.53 346.38zM328.9 348.04L333.27 351.22L331.6 356.36L326.2 356.36L324.53 351.22zM328.9 352.88L333.27 356.06L331.6 361.2L326.2 361.2L324.53 356.06zM328.9 357.72L333.27 360.9L331.6 366.04L326.2 366.04L324.53 360.9zM329.55 342.31L333.92 345.49L332.25 350.63L326.85 350.63L325.18 345.49zM329.55 346.07L333.92 349.24L332.25 354.39L326.85 354.39L325.18 349.24zM329.55 349.82L333.92 353L332.25 358.14L326.85 358.14L325.18 353zM329.55 353.58L333.92 356.76L332.25 361.9L326.85 361.9L325.18 356.76zM329.55 357.33L333.92 360.51L332.25 365.66L326.85 365.66L325.18 360.51zM330.2 357.66L334.57 360.83L332.9 365.98L327.5 365.98L325.83 360.83zM330.2 353.63L334.57 356.81L332.9 361.95L327.5 361.95L325.83 356.81zM330.2 349.61L334.57 352.79L332.9 357.93L327.5 357.93L325.83 352.79zM330.2 345.58L334.57 348.76L332.9 353.91L327.5 353.91L325.83 348.76zM330.2 341.56L334.57 344.74L332.9 349.88L327.5 349.88L325.83 344.74zM330.85 341.17L335.22 344.35L333.55 349.5L328.15 349.5L326.48 344.35zM330.85 345.14L335.22 348.32L333.55 353.46L328.15 353.46L326.48 348.32zM330.85 349.1L335.22 352.28L333.55 357.42L328.15 357.42L326.48 352.28zM330.85 353.06L335.22 356.24L333.55 361.38L328.15 361.38L326.48 356.24zM330.85 357.03L335.22 360.2L333.55 365.35L328.15 365.35L326.48 360.2zM331.5 356.93L335.87 360.11L334.2 365.26L328.8 365.26L327.13 360.11zM331.5 352.84L335.87 356.02L334.2 361.16L328.8 361.16L327.13 356.02zM331.5 348.75L335.87 351.93L334.2 357.07L328.8 357.07L327.13 351.93zM331.5 344.65L335.87 347.83L334.2 352.98L328.8 352.98L327.13 347.83zM331.5 340.56L335.87 343.74L334.2 348.88L328.8 348.88L327.13 343.74zM332.15 339.7L336.52 342.88L334.85 348.02L329.45 348.02L327.78 342.88zM332.15 343.97L336.52 347.15L334.85 352.29L329.45 352.29L327.78 347.15zM332.15 348.24L336.52 351.42L334.85 356.57L329.45 356.57L327.78 351.42zM332.15 352.52L336.52 355.7L334.85 360.84L329.45 360.84L327.78 355.7zM332.15 356.79L336.52 359.97L334.85 365.11L329.45 365.11L327.78 359.97zM332.8 356.75L337.17 359.93L335.5 365.08L330.1 365.08L328.43 359.93zM332.8 352.37L337.17 355.55L335.5 360.69L330.1 360.69L328.43 355.55zM332.8 347.98L337.17 351.16L335.5 356.3L330.1 356.3L328.43 351.16zM332.8 343.6L337.17 346.78L335.5 351.92L330.1 351.92L328.43 346.78zM332.8 339.21L337.17 342.39L335.5 347.53L330.1 347.53L328.43 342.39zM333.45 338.37L337.82 341.55L336.15 346.69L330.75 346.69L329.08 341.55zM333.45 343.03L337.82 346.2L336.15 351.35L330.75 351.35L329.08 346.2zM333.45 347.68L337.82 350.86L336.15 356L330.75 356L329.08 350.86zM333.45 352.34L337.82 355.51L336.15 360.66L330.75 360.66L329.08 355.51zM333.45 356.99L337.82 360.17L336.15 365.31L330.75 365.31L329.08 360.17zM334.1 357.79L338.47 360.97L336.8 366.11L331.4 366.11L329.73 360.97zM334.1 352.81L338.47 355.99L336.8 361.13L331.4 361.13L329.73 355.99zM334.1 347.82L338.47 351L336.8 356.15L331.4 356.15L329.73 351zM334.1 342.84L338.47 346.02L336.8 351.16L331.4 351.16L329.73 346.02zM334.1 337.86L338.47 341.03L336.8 346.18L331.4 346.18L329.73 341.03zM334.75 339.46L339.12 342.64L337.45 347.78L332.05 347.78L330.38 342.64zM334.75 343.95L339.12 347.13L337.45 352.27L332.05 352.27L330.38 347.13zM334.75 348.44L339.12 351.62L337.45 356.76L332.05 356.76L330.38 351.62zM334.75 352.93L339.12 356.11L337.45 361.25L332.05 361.25L330.38 356.11zM334.75 357.42L339.12 360.6L337.45 365.74L332.05 365.74L330.38 360.6zM335.4 356.71L339.77 359.89L338.1 365.03L332.7 365.03L331.03 359.89zM335.4 352.27L339.77 355.45L338.1 360.59L332.7 360.59L331.03 355.45zM335.4 347.83L339.77 351.01L338.1 356.15L332.7 356.15L331.03 351.01zM335.4 343.4L339.77 346.57L338.1 351.72L332.7 351.72L331.03 346.57zM335.4 338.96L339.77 342.14L338.1 347.28L332.7 347.28L331.03 342.14zM336.05 340.76L340.42 343.94L338.75 349.08L333.35 349.08L331.68 343.94zM336.05 344.54L340.42 347.72L338.75 352.86L333.35 352.86L331.68 347.72zM336.05 348.32L340.42 351.5L338.75 356.64L333.35 356.64L331.68 351.5zM336.05 352.1L340.42 355.28L338.75 360.42L333.35 360.42L331.68 355.28zM336.05 355.88L340.42 359.06L338.75 364.2L333.35 364.2L331.68 359.06zM336.7 355.03L341.07 358.21L339.4 363.35L334 363.35L332.33 358.21zM336.7 350.52L341.07 353.69L339.4 358.84L334 358.84L332.33 353.69zM336.7 346L341.07 349.18L339.4 354.32L334 354.32L332.33 349.18zM336.7 341.48L341.07 344.66L339.4 349.8L334 349.8L332.33 344.66zM337.35 355.31L341.72 358.49L340.05 363.63L334.65 363.63L332.98 358.49zM337.35 350.69L341.72 353.87L340.05 359.01L334.65 359.01L332.98 353.87zM337.35 346.07L341.72 349.24L340.05 354.39L334.65 354.39L332.98 349.24zM337.35 341.44L341.72 344.62L340.05 349.76L334.65 349.76L332.98 344.62zM338 354.63L342.37 357.81L340.7 362.95L335.3 362.95L333.63 357.81zM338 350.16L342.37 353.34L340.7 358.48L335.3 358.48L333.63 353.34zM338 345.68L342.37 348.86L340.7 354.01L335.3 354.01L333.63 348.86zM338.65 351.12L343.02 354.3L341.35 359.44L335.95 359.44L334.28 354.3zM338.65 353.22L343.02 356.39L341.35 361.54L335.95 361.54L334.28 356.39zM280.9 363.7L285.27 366.88L283.6 372.02L278.2 372.02L276.53 366.88zM307.9 372L312.27 375.18L310.6 380.32L305.2 380.32L303.53 375.18zM323.3 370.1L327.67 373.28L326 378.42L320.6 378.42L318.93 373.28zM337.3 366.5L341.67 369.68L340 374.82L334.6 374.82L332.93 369.68zM337.3 384.2L341.67 387.38L340 392.52L334.6 392.52L332.93 387.38zM359.1 390.1L363.47 393.28L361.8 398.42L356.4 398.42L354.73 393.28zM359.1 393.3L363.47 396.48L361.8 401.62L356.4 401.62L354.73 396.48z" fill="#800000"/>
<path d="M337.3 350V388.8M280.9 355V368M307.9 360V376M323.3 362V374" stroke="#800000" stroke-width="1.7" fill="none"/>
</g>
<rect x="114.5" y="275" width="71.9" height="144.2" fill="#fff" stroke="#444" stroke-width="1"/>
<path d="M115.3 284.9H149.4" stroke="#000000" stroke-width="1.7"/>
<path d="M128.8 281.4h7v7h-7z" fill="#000000"/>
<text x="152.8" y="290.1" font-size="14.8" fill="#000">4</text>
<path d="M115.3 302.87H149.4" stroke="#ff0000" stroke-width="1.7"/>
<path d="M128.05 302.87a4.25 4.25 0 1 0 8.5 0a4.25 4.25 0 1 0 -8.5 0z" fill="#ff0000"/>
<path transform="translate(152.8 308.07) scale(0.00723 -0.00723)" d="M763 0H583V1147Q518 1085 412.5 1023T223 930V1104Q373 1174.5 485 1275T644 1472H763Z" fill="#000"/><text x="161.03" y="308.07" font-size="14.8" fill="#000">0</text>
<path d="M115.3 320.84H149.4" stroke="#0000ff" stroke-width="1.7"/>
<path d="M132.3 315.51L137.5 323.51L127.1 323.51z" fill="#0000ff"/>
<text x="152.8" y="326.04" font-size="14.8" fill="#000">30</text>
<path d="M115.3 338.81H149.4" stroke="#008080" stroke-width="1.7"/>
<path d="M132.3 344.14L137.5 336.14L127.1 336.14z" fill="#008080"/>
<text x="152.8" y="344.01" font-size="14.8" fill="#000">60</text>
<path d="M115.3 356.78H149.4" stroke="#ff00ff" stroke-width="1.7"/>
<path d="M126.97 356.78L134.97 351.58L134.97 361.98z" fill="#ff00ff"/>
<path transform="translate(152.8 361.98) scale(0.00723 -0.00723)" d="M763 0H583V1147Q518 1085 412.5 1023T223 930V1104Q373 1174.5 485 1275T644 1472H763Z" fill="#000"/><text x="161.03" y="361.98" font-size="14.8" fill="#000">00</text>
<path d="M115.3 374.75H149.4" stroke="#808000" stroke-width="1.7"/>
<path d="M137.63 374.75L129.63 369.55L129.63 379.95z" fill="#808000"/>
<text x="152.8" y="379.95" font-size="14.8" fill="#000">300</text>
<path d="M115.3 392.72H149.4" stroke="#000080" stroke-width="1.7"/>
<path d="M132.3 387.82L137.2 392.72L132.3 397.62L127.4 392.72z" fill="#000080"/>
<text x="152.8" y="397.92" font-size="14.8" fill="#000">600</text>
<path d="M115.3 410.69H149.4" stroke="#800000" stroke-width="1.7"/>
<path d="M132.3 406.09L136.67 409.27L135 414.41L129.6 414.41L127.93 409.27z" fill="#800000"/>
<path transform="translate(152.8 415.89) scale(0.00723 -0.00723)" d="M763 0H583V1147Q518 1085 412.5 1023T223 930V1104Q373 1174.5 485 1275T644 1472H763Z" fill="#000"/><text x="161.03" y="415.89" font-size="14.8" fill="#000">000</text>
<path transform="translate(64.65 127.8) scale(0.00806 -0.00806)" d="M806 0H525V1059Q371 915 162 846V1101Q272 1137 401 1237.5T578 1472H806Z" fill="#000" stroke="#000" stroke-width="31.03"/><text x="73.83" y="127.8" font-size="16.5" font-weight="bold" stroke="#000" stroke-width="0.25" fill="#000">0</text>
<path transform="translate(73.83 189.1) scale(0.00806 -0.00806)" d="M806 0H525V1059Q371 915 162 846V1101Q272 1137 401 1237.5T578 1472H806Z" fill="#000" stroke="#000" stroke-width="31.03"/>
<text x="60.06" y="250.4" font-size="16.5" font-weight="bold" stroke="#000" stroke-width="0.25" fill="#000">0.</text><path transform="translate(73.83 250.4) scale(0.00806 -0.00806)" d="M806 0H525V1059Q371 915 162 846V1101Q272 1137 401 1237.5T578 1472H806Z" fill="#000" stroke="#000" stroke-width="31.03"/>
<text x="50.89" y="311.7" font-size="16.5" font-weight="bold" stroke="#000" stroke-width="0.25" fill="#000">0.0</text><path transform="translate(73.83 311.7) scale(0.00806 -0.00806)" d="M806 0H525V1059Q371 915 162 846V1101Q272 1137 401 1237.5T578 1472H806Z" fill="#000" stroke="#000" stroke-width="31.03"/>
<path transform="translate(48.15 373) scale(0.00806 -0.00806)" d="M806 0H525V1059Q371 915 162 846V1101Q272 1137 401 1237.5T578 1472H806Z" fill="#000" stroke="#000" stroke-width="31.03"/><text x="57.33" y="373" font-size="16.5" font-weight="bold" stroke="#000" stroke-width="0.25" fill="#000">E-3</text>
<path transform="translate(48.15 434.3) scale(0.00806 -0.00806)" d="M806 0H525V1059Q371 915 162 846V1101Q272 1137 401 1237.5T578 1472H806Z" fill="#000" stroke="#000" stroke-width="31.03"/><text x="57.33" y="434.3" font-size="16.5" font-weight="bold" stroke="#000" stroke-width="0.25" fill="#000">E-4</text>
<text x="96.63" y="455" font-size="16.5" font-weight="bold" stroke="#000" stroke-width="0.25" fill="#000">0.</text><path transform="translate(110.39 455) scale(0.00806 -0.00806)" d="M806 0H525V1059Q371 915 162 846V1101Q272 1137 401 1237.5T578 1472H806Z" fill="#000" stroke="#000" stroke-width="31.03"/>
<path transform="translate(188.46 455) scale(0.00806 -0.00806)" d="M806 0H525V1059Q371 915 162 846V1101Q272 1137 401 1237.5T578 1472H806Z" fill="#000" stroke="#000" stroke-width="31.03"/>
<path transform="translate(268.83 455) scale(0.00806 -0.00806)" d="M806 0H525V1059Q371 915 162 846V1101Q272 1137 401 1237.5T578 1472H806Z" fill="#000" stroke="#000" stroke-width="31.03"/><text x="278" y="455" font-size="16.5" font-weight="bold" stroke="#000" stroke-width="0.25" fill="#000">0</text>
<path transform="translate(349.19 455) scale(0.00806 -0.00806)" d="M806 0H525V1059Q371 915 162 846V1101Q272 1137 401 1237.5T578 1472H806Z" fill="#000" stroke="#000" stroke-width="31.03"/><text x="358.36" y="455" font-size="16.5" font-weight="bold" stroke="#000" stroke-width="0.25" fill="#000">00</text>
<text x="284.3" y="489" text-anchor="middle" font-weight="bold" font-size="18" fill="#000">t (s)</text>
<text transform="translate(24.9 310) rotate(-90)" font-size="21" fill="#000" stroke="#000" stroke-width="0.3">σ</text>
<text transform="translate(33.8 296.2) rotate(-90)" font-size="17" font-weight="bold" fill="#000">r</text>
<text transform="translate(24.2 285.1) rotate(-90) scale(1.06 1)" font-size="18" font-weight="bold" fill="#000">(Pa)</text>
</svg>
</body></html>
